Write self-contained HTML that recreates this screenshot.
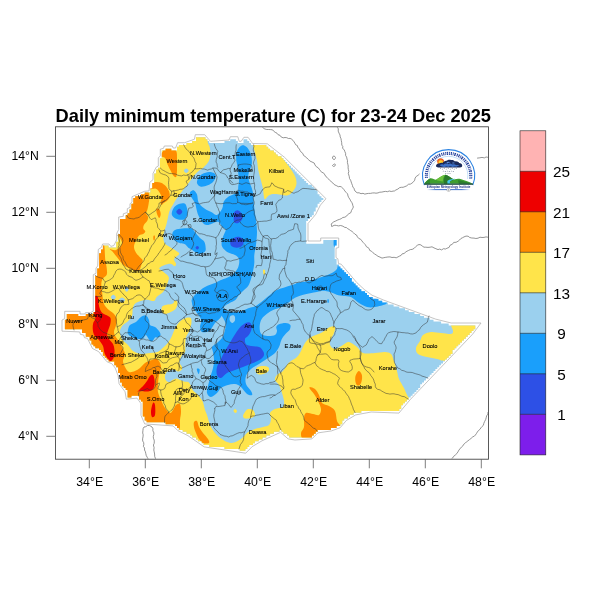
<!DOCTYPE html>
<html><head><meta charset="utf-8">
<title>Daily minimum temperature</title>
<style>
html,body{margin:0;padding:0;background:#fff;}
body{width:600px;height:600px;overflow:hidden;position:relative;font-family:"Liberation Sans",sans-serif;}
svg{position:absolute;left:0;top:0;}
text{font-family:"Liberation Sans",sans-serif;}
</style></head><body>
<svg width="600" height="600" viewBox="0 0 600 600">
<defs>
<filter id="nf" x="-0.05" y="-0.05" width="1.1" height="1.1" filterUnits="objectBoundingBox" color-interpolation-filters="sRGB"><feOffset dx="0" dy="0"/></filter>
<clipPath id="frame"><rect x="56" y="127.3" width="432" height="331.5"/></clipPath>
<clipPath id="eth"><path d="M192.2 143.0L186.5 143.0L186.5 144.9L178.9 144.9L178.9 146.8L177.0 146.8L177.0 148.7L177.0 148.7L177.0 150.6L171.3 150.6L171.3 148.7L165.6 148.7L165.6 150.6L161.8 150.6L161.8 152.5L161.8 152.5L161.8 154.4L161.8 154.4L161.8 156.3L161.8 156.3L161.8 158.2L159.9 158.2L159.9 160.1L159.9 160.1L159.9 162.0L159.9 162.0L159.9 163.9L159.9 163.9L159.9 165.8L159.9 165.8L159.9 167.7L158.0 167.7L158.0 169.6L156.1 169.6L156.1 171.5L156.1 171.5L156.1 173.4L154.2 173.4L154.2 175.3L154.2 175.3L154.2 177.2L154.2 177.2L154.2 179.1L154.2 179.1L154.2 181.0L154.2 181.0L154.2 182.9L152.3 182.9L152.3 184.8L152.3 184.8L152.3 186.7L152.3 186.7L152.3 188.6L150.4 188.6L150.4 190.5L150.4 190.5L150.4 192.4L144.7 192.4L144.7 194.3L140.9 194.3L140.9 196.2L135.2 196.2L135.2 198.1L133.3 198.1L133.3 200.0L133.3 200.0L133.3 201.9L133.3 201.9L133.3 203.8L131.4 203.8L131.4 205.7L131.4 205.7L131.4 207.6L131.4 207.6L131.4 209.5L129.5 209.5L129.5 211.4L129.5 211.4L129.5 213.3L127.6 213.3L127.6 215.2L125.7 215.2L125.7 217.1L125.7 217.1L125.7 219.0L120.0 219.0L120.0 220.9L120.0 220.9L120.0 222.8L120.0 222.8L120.0 224.7L120.0 224.7L120.0 226.6L120.0 226.6L120.0 228.5L120.0 228.5L120.0 230.4L120.0 230.4L120.0 232.3L120.0 232.3L120.0 234.2L118.1 234.2L118.1 236.1L118.1 236.1L118.1 238.0L118.1 238.0L118.1 239.9L118.1 239.9L118.1 241.8L116.2 241.8L116.2 243.7L116.2 243.7L116.2 245.6L116.2 245.6L116.2 247.5L108.6 247.5L108.6 245.6L102.9 245.6L102.9 247.5L102.9 247.5L102.9 249.4L101.0 249.4L101.0 251.3L101.0 251.3L101.0 253.2L99.1 253.2L99.1 255.1L99.1 255.1L99.1 257.0L99.1 257.0L99.1 258.9L99.1 258.9L99.1 260.8L99.1 260.8L99.1 262.7L99.1 262.7L99.1 264.6L99.1 264.6L99.1 266.5L99.1 266.5L99.1 268.4L97.2 268.4L97.2 270.3L97.2 270.3L97.2 272.2L97.2 272.2L97.2 274.1L97.2 274.1L97.2 276.0L95.3 276.0L95.3 277.9L95.3 277.9L95.3 279.8L95.3 279.8L95.3 281.7L95.3 281.7L95.3 283.6L95.3 283.6L95.3 285.5L95.3 285.5L95.3 287.4L95.3 287.4L95.3 289.3L95.3 289.3L95.3 291.2L95.3 291.2L95.3 293.1L95.3 293.1L95.3 295.0L95.3 295.0L95.3 296.9L95.3 296.9L95.3 298.8L95.3 298.8L95.3 300.7L95.3 300.7L95.3 302.6L95.3 302.6L95.3 304.5L95.3 304.5L95.3 306.4L95.3 306.4L95.3 308.3L95.3 308.3L95.3 310.2L95.3 310.2L95.3 312.1L93.4 312.1L93.4 314.0L85.8 314.0L85.8 315.9L78.2 315.9L78.2 314.0L66.8 314.0L66.8 315.9L66.8 315.9L66.8 317.8L66.8 317.8L66.8 319.7L64.9 319.7L64.9 321.6L64.9 321.6L64.9 323.5L64.9 323.5L64.9 325.4L64.9 325.4L64.9 327.3L64.9 327.3L64.9 329.2L82.0 329.2L82.0 331.1L82.0 331.1L82.0 333.0L85.8 333.0L85.8 334.9L85.8 334.9L85.8 336.8L89.6 336.8L89.6 338.7L89.6 338.7L89.6 340.6L91.5 340.6L91.5 342.5L91.5 342.5L91.5 344.4L93.4 344.4L93.4 346.3L95.3 346.3L95.3 348.2L99.1 348.2L99.1 350.1L101.0 350.1L101.0 352.0L102.9 352.0L102.9 353.9L102.9 353.9L102.9 355.8L104.8 355.8L104.8 357.7L106.7 357.7L106.7 359.6L108.6 359.6L108.6 361.5L114.3 361.5L114.3 363.4L114.3 363.4L114.3 365.3L116.2 365.3L116.2 367.2L118.1 367.2L118.1 369.1L118.1 369.1L118.1 371.0L118.1 371.0L118.1 372.9L120.0 372.9L120.0 374.8L120.0 374.8L120.0 376.7L120.0 376.7L120.0 378.6L120.0 378.6L120.0 380.5L120.0 380.5L120.0 382.4L121.9 382.4L121.9 384.3L121.9 384.3L121.9 386.2L123.8 386.2L123.8 388.1L125.7 388.1L125.7 390.0L127.6 390.0L127.6 391.9L127.6 391.9L127.6 393.8L127.6 393.8L127.6 395.7L127.6 395.7L127.6 397.6L131.4 397.6L131.4 395.7L139.0 395.7L139.0 397.6L139.0 397.6L139.0 399.5L140.9 399.5L140.9 401.4L142.8 401.4L142.8 403.3L142.8 403.3L142.8 405.2L142.8 405.2L142.8 407.1L142.8 407.1L142.8 409.0L142.8 409.0L142.8 410.9L142.8 410.9L142.8 412.8L142.8 412.8L142.8 414.7L142.8 414.7L142.8 416.6L144.7 416.6L144.7 418.5L144.7 418.5L144.7 420.4L146.6 420.4L146.6 422.3L165.6 422.3L165.6 424.2L175.1 424.2L175.1 426.1L177.0 426.1L177.0 428.0L178.9 428.0L178.9 429.9L182.7 429.9L182.7 431.8L186.5 431.8L186.5 433.7L190.3 433.7L190.3 435.6L192.2 435.6L192.2 437.5L196.0 437.5L196.0 439.4L197.9 439.4L197.9 441.3L201.7 441.3L201.7 443.2L203.6 443.2L203.6 445.1L209.3 445.1L209.3 447.0L224.5 447.0L224.5 448.9L239.7 448.9L239.7 450.8L245.4 450.8L245.4 448.9L247.3 448.9L247.3 447.0L249.2 447.0L249.2 445.1L253.0 445.1L253.0 443.2L254.9 443.2L254.9 441.3L258.7 441.3L258.7 439.4L262.5 439.4L262.5 437.5L266.3 437.5L266.3 435.6L270.1 435.6L270.1 433.7L273.9 433.7L273.9 431.8L279.6 431.8L279.6 429.9L281.5 429.9L281.5 431.8L283.4 431.8L283.4 433.7L287.2 433.7L287.2 435.6L289.1 435.6L289.1 437.5L311.9 437.5L311.9 435.6L313.8 435.6L313.8 433.7L315.7 433.7L315.7 431.8L317.6 431.8L317.6 429.9L330.9 429.9L330.9 428.0L336.6 428.0L336.6 426.1L340.4 426.1L340.4 424.2L342.3 424.2L342.3 422.3L342.3 422.3L342.3 420.4L344.2 420.4L344.2 418.5L348.0 418.5L348.0 416.6L349.9 416.6L349.9 414.7L353.7 414.7L353.7 412.8L361.3 412.8L361.3 410.9L399.3 410.9L399.3 409.0L401.2 409.0L401.2 407.1L401.2 407.1L401.2 405.2L403.1 405.2L403.1 403.3L405.0 403.3L405.0 401.4L406.9 401.4L406.9 399.5L408.8 399.5L408.8 397.6L410.7 397.6L410.7 395.7L412.6 395.7L412.6 393.8L414.5 393.8L414.5 391.9L416.4 391.9L416.4 390.0L418.3 390.0L418.3 388.1L420.2 388.1L420.2 386.2L420.2 386.2L420.2 384.3L422.1 384.3L422.1 382.4L424.0 382.4L424.0 380.5L425.9 380.5L425.9 378.6L427.8 378.6L427.8 376.7L429.7 376.7L429.7 374.8L431.6 374.8L431.6 372.9L433.5 372.9L433.5 371.0L435.4 371.0L435.4 369.1L437.3 369.1L437.3 367.2L439.2 367.2L439.2 365.3L441.1 365.3L441.1 363.4L443.0 363.4L443.0 361.5L444.9 361.5L444.9 359.6L446.8 359.6L446.8 357.7L448.7 357.7L448.7 355.8L450.6 355.8L450.6 353.9L452.5 353.9L452.5 352.0L452.5 352.0L452.5 350.1L454.4 350.1L454.4 348.2L456.3 348.2L456.3 346.3L458.2 346.3L458.2 344.4L460.1 344.4L460.1 342.5L462.0 342.5L462.0 340.6L463.9 340.6L463.9 338.7L465.8 338.7L465.8 336.8L467.7 336.8L467.7 334.9L469.6 334.9L469.6 333.0L471.5 333.0L471.5 331.1L473.4 331.1L473.4 329.2L475.3 329.2L475.3 327.3L475.3 327.3L475.3 325.4L448.7 325.4L448.7 323.5L441.1 323.5L441.1 321.6L433.5 321.6L433.5 319.7L429.7 319.7L429.7 317.8L424.0 317.8L424.0 315.9L420.2 315.9L420.2 314.0L414.5 314.0L414.5 312.1L408.8 312.1L408.8 310.2L405.0 310.2L405.0 308.3L399.3 308.3L399.3 306.4L393.6 306.4L393.6 304.5L387.9 304.5L387.9 302.6L382.2 302.6L382.2 300.7L378.4 300.7L378.4 298.8L372.7 298.8L372.7 296.9L368.9 296.9L368.9 295.0L367.0 295.0L367.0 293.1L365.1 293.1L365.1 291.2L361.3 291.2L361.3 289.3L359.4 289.3L359.4 287.4L357.5 287.4L357.5 285.5L355.6 285.5L355.6 283.6L353.7 283.6L353.7 281.7L351.8 281.7L351.8 279.8L351.8 279.8L351.8 277.9L349.9 277.9L349.9 276.0L348.0 276.0L348.0 274.1L346.1 274.1L346.1 272.2L344.2 272.2L344.2 270.3L342.3 270.3L342.3 268.4L340.4 268.4L340.4 266.5L338.5 266.5L338.5 264.6L336.6 264.6L336.6 262.7L336.6 262.7L336.6 260.8L336.6 260.8L336.6 258.9L334.7 258.9L334.7 257.0L334.7 257.0L334.7 255.1L334.7 255.1L334.7 253.2L334.7 253.2L334.7 251.3L334.7 251.3L334.7 249.4L334.7 249.4L334.7 247.5L334.7 247.5L334.7 245.6L336.6 245.6L336.6 243.7L336.6 243.7L336.6 241.8L336.6 241.8L336.6 239.9L323.3 239.9L323.3 241.8L323.3 241.8L323.3 243.7L306.2 243.7L306.2 241.8L306.2 241.8L306.2 239.9L306.2 239.9L306.2 238.0L306.2 238.0L306.2 236.1L306.2 236.1L306.2 234.2L306.2 234.2L306.2 232.3L306.2 232.3L306.2 230.4L306.2 230.4L306.2 228.5L306.2 228.5L306.2 226.6L306.2 226.6L306.2 224.7L306.2 224.7L306.2 222.8L306.2 222.8L306.2 220.9L308.1 220.9L308.1 219.0L310.0 219.0L310.0 217.1L311.9 217.1L311.9 215.2L313.8 215.2L313.8 213.3L313.8 213.3L313.8 211.4L315.7 211.4L315.7 209.5L315.7 209.5L315.7 207.6L317.6 207.6L317.6 205.7L317.6 205.7L317.6 203.8L319.5 203.8L319.5 201.9L321.4 201.9L321.4 200.0L323.3 200.0L323.3 198.1L321.4 198.1L321.4 196.2L319.5 196.2L319.5 194.3L317.6 194.3L317.6 192.4L317.6 192.4L317.6 190.5L315.7 190.5L315.7 188.6L313.8 188.6L313.8 186.7L311.9 186.7L311.9 184.8L308.1 184.8L308.1 182.9L306.2 182.9L306.2 181.0L304.3 181.0L304.3 179.1L302.4 179.1L302.4 177.2L300.5 177.2L300.5 175.3L298.6 175.3L298.6 173.4L296.7 173.4L296.7 171.5L294.8 171.5L294.8 169.6L292.9 169.6L292.9 167.7L291.0 167.7L291.0 165.8L289.1 165.8L289.1 163.9L287.2 163.9L287.2 162.0L285.3 162.0L285.3 160.1L283.4 160.1L283.4 158.2L281.5 158.2L281.5 156.3L277.7 156.3L277.7 154.4L275.8 154.4L275.8 152.5L273.9 152.5L273.9 150.6L270.1 150.6L270.1 148.7L268.2 148.7L268.2 146.8L266.3 146.8L266.3 144.9L251.1 144.9L251.1 143.0L249.2 143.0L249.2 141.1L247.3 141.1L247.3 139.2L243.5 139.2L243.5 141.1L243.5 141.1L243.5 143.0L237.8 143.0L237.8 141.1L235.9 141.1L235.9 139.2L230.2 139.2L230.2 141.1L224.5 141.1L224.5 143.0L209.3 143.0L209.3 141.1L207.4 141.1L207.4 139.2L205.5 139.2L205.5 137.3L196.0 137.3L196.0 139.2L196.0 139.2L196.0 141.1L192.2 141.1Z"/></clipPath>
</defs>
<g clip-path="url(#frame)">
<g fill="none" stroke="#7a7a7a" stroke-width="0.8" stroke-linejoin="round">
<path d="M262.0 126.3L263.6 128.4L264.9 129.0L266.8 129.5L268.7 129.5L270.7 129.6L272.7 129.9L273.7 131.2L275.2 132.3L277.0 133.2L278.0 134.7L280.0 135.3L281.2 137.0L283.2 137.8L285.0 137.5L286.8 137.7L288.4 138.5L290.1 138.4L291.7 139.2L292.9 140.3L294.1 141.9L294.9 143.2L295.6 144.7L297.4 145.6L297.8 147.5L299.3 148.7L300.0 150.5L301.2 152.2L302.9 153.5L303.5 155.4L305.0 156.4L306.9 158.0L308.4 159.5L309.8 161.0L312.0 162.0L314.2 163.0L315.0 165.0L316.3 166.7L318.2 167.8L319.4 169.4L320.6 170.9L321.7 172.3L323.4 172.8L325.0 175.0L325.6 176.3L327.0 177.3L328.2 178.7L329.5 180.2L331.1 181.5L332.6 182.7L333.7 184.1L335.0 185.0L336.8 185.8L338.3 186.7L340.0 186.4L341.5 187.0L342.8 188.2L343.8 189.4L344.8 190.9L346.1 192.4L347.6 193.9L348.0 196.0L348.8 197.7L349.8 199.1L350.7 200.9L351.8 202.5L352.5 204.0L352.8 205.5L353.4 207.0L352.5 208.8L351.5 210.4L350.9 212.6L348.8 213.8L347.6 214.7L346.5 216.2L344.8 217.2L342.8 217.5L341.2 218.7L339.5 219.4L337.9 219.9L335.7 221.0L333.7 221.9L332.1 223.1L331.2 224.0L331.9 226.7L332.5 226.0L334.9 225.2L336.6 225.5L338.5 225.9L340.7 225.5L342.9 226.2L344.8 227.4L346.5 227.6L347.7 228.7L349.2 229.5L350.6 230.6L352.2 231.5L353.5 232.8L354.9 234.2L356.5 235.0L357.4 236.8L358.7 238.4L360.7 239.3L361.9 240.9L363.1 242.4L364.3 243.6L365.3 244.7L366.5 246.8L368.0 247.6L369.1 248.5L369.7 250.4L371.5 251.2L372.9 252.7L374.5 253.9L376.1 254.9L378.0 256.3L380.0 257.1L382.0 258.1L383.8 257.7L385.8 257.3L387.9 257.0L390.0 256.9L392.0 257.5L394.1 257.3L396.2 257.8L398.0 256.9L399.5 256.1L401.1 255.4L402.2 253.8L404.3 253.5L405.4 252.1L407.0 251.2L408.7 250.4L410.3 249.6L412.2 249.4L414.2 248.3L415.7 246.7L417.3 245.3L419.0 244.5L420.9 244.9L422.3 246.1L424.0 247.2L425.8 247.2L428.0 247.4L430.1 247.2L432.0 246.8L434.0 247.9L435.9 248.7L438.0 249.6L439.7 249.1L441.6 249.9L443.5 248.7L445.4 249.0L446.9 248.3L449.1 247.4L450.1 245.2L452.3 244.3L453.7 242.4L456.1 242.3L458.1 241.2L459.6 240.0L460.9 238.5L462.6 237.7L464.0 236.9L466.0 236.1L468.1 236.2L469.7 237.5L471.8 238.0L474.0 238.1L475.9 238.5L478.0 238.2L480.0 237.2L482.0 237.5L484.0 237.4L486.0 236.9L487.8 237.2L489.0 237.4"/>
<path d="M337.0 126.0L337.3 127.2L338.3 128.8L338.2 131.1L339.0 133.1L340.0 135.0L340.2 136.9L341.0 138.7L341.3 140.6L341.7 142.7L341.8 145.1L342.8 146.4L342.6 148.4L344.2 149.7L344.8 151.5L345.6 153.3L345.6 155.4L346.6 157.1L347.0 159.0L347.5 160.7L347.4 162.4L347.8 164.2L348.2 166.0L348.1 167.8L348.4 169.6L348.8 171.4L348.3 173.3L348.8 175.0L349.3 176.7L349.5 178.5L350.6 180.2L351.2 182.0L351.8 183.8L352.5 185.5L352.9 187.3L354.2 188.4L354.4 189.9L355.0 191.0L357.1 192.8L359.1 192.8L361.0 193.7L363.0 193.3L364.8 194.1L367.0 193.6L368.6 193.4L370.4 193.4L372.3 193.0L374.2 192.9L376.0 193.2L378.0 192.9L379.8 192.2L381.8 192.1L384.0 191.6L385.6 191.4L387.4 191.7L389.3 191.0L391.2 191.5L393.1 191.1L394.7 190.9L395.8 190.0L397.8 189.1L399.7 187.6L401.3 187.3L403.1 187.3L404.9 186.6L406.8 185.8L408.4 184.3L410.4 184.1L411.9 183.2L413.5 181.8L414.7 180.2L415.1 178.1L416.3 176.4L418.2 175.2L419.4 174.0L420.7 172.9L421.6 171.4L423.3 170.6L424.3 168.7L426.4 168.4L428.2 167.4L429.3 166.2L430.8 165.3L432.6 165.2L434.4 164.8L436.0 164.0L437.7 163.2L439.6 162.9L441.6 163.1L443.2 161.9L445.1 162.5L446.7 161.4L448.4 161.1L450.1 160.8L451.9 161.5L453.6 161.3L455.3 160.5L457.0 160.1L458.7 160.5L460.4 160.6L461.9 159.5L463.8 159.9L465.7 159.9L467.4 159.3L469.2 159.1L471.0 159.2L472.6 158.3L474.3 158.1L476.0 158.4L477.5 158.1L479.8 157.8L482.0 157.4L484.3 157.9L486.1 157.0L487.8 157.3L489.0 157.0"/>
<path d="M489.0 410.0L489.0 411.2L488.0 412.3L487.9 414.1L486.7 415.7L486.2 417.7L485.6 419.7L484.6 421.5L483.8 423.4L483.4 425.3L482.0 426.5L480.9 427.9L479.9 429.4L478.4 430.6L477.3 432.1L476.4 433.6L475.4 435.0L474.3 436.2L472.8 436.8L471.1 438.4L469.4 439.7L467.9 440.9L466.4 441.9L465.2 443.2L463.6 444.4L462.9 445.9L461.4 447.1L459.9 448.9L458.9 450.1L458.0 451.8L456.9 453.5L455.3 455.0L453.7 456.3L452.7 457.9L451.5 458.9L451.0 460.0"/>
<path d="M144.0 427.0L145.7 426.7L147.5 425.5L149.3 425.5L150.8 426.2L152.0 427.0L152.9 428.6L152.9 430.8L153.9 432.9L153.8 434.5L153.3 436.3L153.4 438.2L154.2 440.1L154.3 441.9L154.1 443.6L153.4 445.0L154.1 447.7L153.8 450.0L154.2 451.8L154.6 454.0L154.7 456.5L155.5 458.5L155.5 460.0"/>
<path d="M144.0 427.0L143.2 428.4L142.9 430.6L142.7 433.0L143.2 434.8L143.0 436.8L142.6 438.9L142.7 441.0L143.7 442.7L143.8 444.4L143.4 446.4L144.6 448.0L144.5 450.0L145.4 451.7L145.8 453.7L146.3 455.7L147.3 457.4L148.1 458.9L148.4 460.0"/>
<path d="M332.5 157.0C332.7 156.5 333.5 155.9 334.0 156.0C334.5 156.1 335.4 156.9 335.5 157.5C335.6 158.1 334.9 159.2 334.5 159.5C334.1 159.8 333.3 159.4 333.0 159.0C332.7 158.6 332.3 157.5 332.5 157.0Z"/>
<path d="M332.5 165.5C332.6 165.1 334.0 164.1 334.5 164.0C335.0 163.9 335.6 164.6 335.5 165.0C335.4 165.4 334.5 166.4 334.0 166.5C333.5 166.6 332.4 165.9 332.5 165.5Z"/>
</g>
<g clip-path="url(#eth)">
<rect x="56" y="127" width="432" height="332" fill="#9BD0EE"/>
<path d="M207.7 132.0C210.6 134.3 207.4 139.4 207.7 142.0C208.0 144.6 209.3 145.3 209.7 147.3C210.1 149.3 210.4 151.8 210.3 154.0C210.2 156.2 210.1 158.5 209.0 160.7C207.9 162.9 205.5 165.5 203.7 167.3C201.9 169.1 199.9 170.0 198.3 171.3C196.7 172.6 195.6 173.7 194.3 175.3C193.0 176.9 191.6 178.9 190.3 180.7C189.0 182.5 187.9 184.0 186.3 186.0C184.8 188.0 182.6 190.7 181.0 192.7C179.4 194.7 178.3 196.0 177.0 198.0C175.7 200.0 174.2 202.7 173.0 204.7C171.8 206.7 170.7 208.4 170.0 210.0C169.3 211.6 169.2 211.8 168.7 214.0C168.1 216.2 167.4 220.6 166.7 223.3C166.0 226.0 165.3 227.8 164.7 230.0C164.1 232.2 163.3 234.5 163.3 236.7C163.3 238.9 163.8 241.7 164.7 243.3C165.6 244.9 166.9 245.1 168.7 246.3C170.5 247.5 173.5 249.1 175.3 250.3C177.1 251.5 179.2 252.6 179.3 253.7C179.4 254.8 176.9 256.0 176.0 257.0C175.1 258.0 174.0 258.6 174.0 259.7C174.0 260.8 175.9 262.6 176.0 263.7C176.1 264.8 175.6 266.3 174.7 266.3C173.8 266.3 172.4 263.9 170.7 263.7C169.0 263.5 166.6 264.2 164.7 265.0C162.8 265.8 159.5 267.2 159.3 268.3C159.1 269.4 161.7 270.2 163.3 271.7C164.9 273.1 168.0 275.0 168.7 277.0C169.4 279.0 168.2 281.2 167.3 283.7C166.4 286.1 165.1 289.5 163.3 291.7C161.5 293.9 158.2 295.4 156.7 297.0C155.1 298.6 155.6 300.6 154.0 301.0C152.4 301.4 149.5 299.7 147.3 299.7C145.1 299.7 142.8 300.3 140.7 301.0C138.6 301.7 136.0 302.6 134.7 304.0C133.4 305.4 133.1 307.3 132.7 309.3C132.2 311.3 132.8 314.0 132.0 316.0C131.2 318.0 129.6 319.8 128.0 321.3C126.5 322.9 124.0 323.7 122.7 325.3C121.4 326.9 120.3 328.9 120.0 330.7C119.7 332.5 120.2 334.4 120.7 336.0C121.2 337.6 121.5 338.5 122.7 340.0C123.9 341.5 126.3 343.2 128.0 345.0C129.7 346.8 130.8 349.5 133.0 351.0C135.2 352.5 138.5 353.6 141.0 354.0C143.5 354.4 145.3 353.6 148.0 353.3C150.7 353.0 154.9 352.9 157.3 352.0C159.8 351.1 160.9 349.6 162.7 348.0C164.5 346.4 166.6 344.5 168.0 342.7C169.4 340.9 170.2 339.5 171.3 337.3C172.4 335.1 173.5 331.7 174.7 329.3C175.9 326.9 177.1 324.5 178.7 322.7C180.2 320.9 182.0 319.5 184.0 318.7C186.0 317.9 189.5 317.1 190.7 318.0C191.9 318.9 191.5 321.9 191.3 324.0C191.1 326.1 190.2 328.5 189.3 330.7C188.4 332.9 186.7 335.1 186.0 337.3C185.3 339.5 185.5 341.6 185.3 344.0C185.1 346.4 185.6 350.2 185.0 352.0C184.4 353.8 182.8 353.8 182.0 355.0C181.2 356.2 180.4 357.7 180.0 359.0C179.6 360.3 179.2 361.7 179.5 363.0C179.8 364.3 181.7 365.8 182.0 367.0C182.3 368.2 182.2 369.2 181.5 370.0C180.8 370.8 179.1 371.5 178.0 371.5C176.9 371.5 176.0 370.2 175.0 370.0C174.0 369.8 173.2 369.8 172.0 370.0C170.8 370.2 169.1 370.3 168.0 371.0C166.9 371.7 166.0 372.8 165.5 374.0C165.0 375.2 164.8 376.8 165.0 378.0C165.2 379.2 165.8 380.3 166.5 381.0C167.2 381.7 168.5 382.2 169.5 382.0C170.5 381.8 171.3 380.6 172.5 380.0C173.7 379.4 175.2 378.5 176.5 378.5C177.8 378.5 178.8 379.5 180.0 380.0C181.2 380.5 182.7 381.2 184.0 381.5C185.3 381.8 187.0 381.6 188.0 382.0C189.0 382.4 189.4 383.0 190.0 384.0C190.6 385.0 190.9 386.8 191.5 388.0C192.1 389.2 192.6 390.0 193.5 391.0C194.4 392.0 195.9 392.9 197.0 394.0C198.1 395.1 199.1 396.3 200.0 397.5C200.9 398.7 201.8 399.6 202.5 401.0C203.2 402.4 203.6 404.5 204.0 406.0C204.4 407.5 204.5 408.5 205.0 410.0C205.5 411.5 206.0 412.2 207.0 415.0C208.0 417.8 209.0 423.3 211.0 427.0C213.0 430.7 215.7 434.3 219.0 437.0C222.3 439.7 227.3 442.7 231.0 443.0C234.7 443.3 238.3 440.7 241.0 439.0C243.7 437.3 244.7 434.7 247.0 433.0C249.3 431.3 252.3 430.0 255.0 429.0C257.7 428.0 260.7 427.7 263.0 427.0C265.3 426.3 267.7 426.3 269.0 425.0C270.3 423.7 270.8 421.0 271.0 419.0C271.2 417.0 269.3 414.7 270.0 413.0C270.7 411.3 272.8 410.0 275.0 409.0C277.2 408.0 281.5 408.3 283.0 407.0C284.5 405.7 284.2 403.3 284.0 401.0C283.8 398.7 282.8 395.7 282.0 393.0C281.2 390.3 280.2 387.2 279.0 385.0C277.8 382.8 275.3 381.7 275.0 380.0C274.7 378.3 275.7 376.5 277.0 375.0C278.3 373.5 281.3 372.7 283.0 371.0C284.7 369.3 285.7 366.7 287.0 365.0C288.3 363.3 289.3 362.3 291.0 361.0C292.7 359.7 295.3 358.7 297.0 357.0C298.7 355.3 299.7 353.3 301.0 351.0C302.3 348.7 303.3 345.3 305.0 343.0C306.7 340.7 308.3 338.7 311.0 337.0C313.7 335.3 317.8 334.7 321.0 333.0C324.2 331.3 327.7 328.0 330.0 327.0C332.3 326.0 334.3 326.0 335.0 327.0C335.7 328.0 334.7 331.0 334.0 333.0C333.3 335.0 331.7 337.0 331.0 339.0C330.3 341.0 329.3 343.3 330.0 345.0C330.7 346.7 332.8 349.0 335.0 349.0C337.2 349.0 340.7 346.2 343.0 345.0C345.3 343.8 346.7 341.7 349.0 342.0C351.3 342.3 354.7 345.2 357.0 347.0C359.3 348.8 360.0 352.0 363.0 353.0C366.0 354.0 371.3 353.2 375.0 353.0C378.7 352.8 382.3 351.8 385.0 352.0C387.7 352.2 389.5 352.5 391.0 354.0C392.5 355.5 393.0 358.2 394.0 361.0C395.0 363.8 396.2 368.0 397.0 371.0C397.8 374.0 397.8 376.2 399.0 379.0C400.2 381.8 402.3 384.8 404.0 388.0C405.7 391.2 405.5 392.7 409.0 398.0C412.5 403.3 426.5 413.0 425.0 420.0C423.5 427.0 420.8 431.7 400.0 440.0C379.2 448.3 333.3 465.0 300.0 470.0C266.7 475.0 230.0 475.0 200.0 470.0C170.0 465.0 146.7 460.0 120.0 440.0C93.3 420.0 53.3 373.3 40.0 350.0C26.7 326.7 31.7 320.0 40.0 300.0C48.3 280.0 76.7 250.0 90.0 230.0C103.3 210.0 110.0 195.0 120.0 180.0C130.0 165.0 138.3 148.7 150.0 140.0C161.7 131.3 180.4 129.3 190.0 128.0C199.6 126.7 204.8 129.7 207.7 132.0Z" fill="#FFE44A"/>
<path d="M253.0 138.0C251.0 139.2 252.7 142.9 253.0 145.3C253.3 147.8 254.3 150.1 255.0 152.7C255.7 155.3 256.4 157.8 257.0 160.7C257.6 163.6 257.6 166.7 258.3 170.0C259.0 173.3 260.2 177.6 261.0 180.7C261.8 183.8 262.6 186.3 263.0 188.7C263.4 191.1 263.4 193.5 263.7 195.3C264.0 197.1 264.1 199.3 265.0 199.3C265.9 199.3 267.4 196.2 269.0 195.3C270.6 194.4 272.3 194.1 274.3 194.0C276.3 193.9 278.8 194.5 281.0 194.7C283.2 194.9 285.7 195.9 287.7 195.3C289.7 194.7 291.6 193.1 293.0 191.3C294.4 189.5 295.9 186.9 296.3 184.7C296.8 182.5 296.4 180.2 295.7 178.0C295.0 175.8 293.6 173.5 292.3 171.3C291.0 169.1 289.1 166.8 287.7 164.7C286.3 162.6 284.0 160.5 283.7 158.7C283.4 156.9 287.4 156.4 286.0 154.0C284.6 151.6 278.5 146.7 275.0 144.0C271.5 141.3 268.7 139.0 265.0 138.0C261.3 137.0 255.0 136.8 253.0 138.0Z" fill="#FFE44A"/>
<path d="M451.0 325.0C451.3 327.2 453.0 329.5 453.0 331.0C453.0 332.5 453.0 333.7 451.0 334.0C449.0 334.3 444.3 333.3 441.0 333.0C437.7 332.7 434.0 331.7 431.0 332.0C428.0 332.3 424.8 333.5 423.0 335.0C421.2 336.5 421.2 338.8 420.0 341.0C418.8 343.2 416.3 345.8 416.0 348.0C415.7 350.2 416.2 352.5 418.0 354.0C419.8 355.5 423.8 356.2 427.0 357.0C430.2 357.8 434.0 358.3 437.0 359.0C440.0 359.7 440.8 360.7 445.0 361.0C449.2 361.3 454.5 367.5 462.0 361.0C469.5 354.5 491.8 329.2 490.0 322.0C488.2 314.8 457.5 317.5 451.0 318.0C444.5 318.5 450.7 322.8 451.0 325.0Z" fill="#FFE44A"/>
<path d="M255.5 370.0C255.8 369.0 256.8 367.7 258.0 367.0C259.2 366.3 261.3 366.0 263.0 366.0C264.7 366.0 267.0 366.3 268.0 367.0C269.0 367.7 269.3 369.0 269.0 370.0C268.7 371.0 267.5 372.2 266.0 373.0C264.5 373.8 261.6 374.5 260.0 374.5C258.4 374.5 257.2 373.8 256.5 373.0C255.8 372.2 255.2 371.0 255.5 370.0Z" fill="#FFE44A"/>
<path d="M243.0 416.0C243.0 414.9 244.2 413.2 245.0 412.0C245.8 410.8 246.7 409.3 248.0 409.0C249.3 408.7 251.8 409.0 253.0 410.0C254.2 411.0 255.3 413.7 255.0 415.0C254.7 416.3 252.7 417.4 251.0 418.0C249.3 418.6 246.3 418.8 245.0 418.5C243.7 418.2 243.0 417.1 243.0 416.0Z" fill="#FFE44A"/>
<path d="M233.5 411.0C233.4 410.3 234.4 409.0 235.0 409.0C235.6 409.0 236.9 410.3 237.0 411.0C237.1 411.7 236.1 413.0 235.5 413.0C234.9 413.0 233.6 411.7 233.5 411.0Z" fill="#FFE44A"/>
<path d="M263.0 270.0C263.2 269.3 264.7 269.3 265.0 270.0C265.3 270.7 265.2 273.3 265.0 274.0C264.8 274.7 263.8 274.7 263.5 274.0C263.2 273.3 262.8 270.7 263.0 270.0Z" fill="#FFE44A"/>
<path d="M174.0 301.0C174.4 300.2 176.5 300.3 177.0 301.0C177.5 301.7 177.4 304.2 177.0 305.0C176.6 305.8 175.0 306.7 174.5 306.0C174.0 305.3 173.6 301.8 174.0 301.0Z" fill="#FFE44A"/>
<path d="M162.0 306.7C162.8 305.5 165.0 305.1 166.7 304.7C168.4 304.2 170.4 304.6 172.0 304.0C173.6 303.4 175.1 301.3 176.0 301.3C176.9 301.3 177.6 302.7 177.5 304.0C177.4 305.3 176.4 308.0 175.3 309.3C174.2 310.6 172.4 311.2 170.7 312.0C169.0 312.8 166.8 314.0 165.3 314.0C163.9 314.0 162.6 313.2 162.0 312.0C161.4 310.8 161.2 307.9 162.0 306.7Z" fill="#FFE44A"/>
<path d="M183.9 170.7C183.9 170.0 185.5 168.5 186.3 168.5C187.1 168.5 188.7 170.0 188.7 170.7C188.7 171.4 187.1 172.9 186.3 172.9C185.5 172.9 183.9 171.4 183.9 170.7Z" fill="#9BD0EE"/>
<path d="M110.8 297.3C110.8 296.5 112.5 294.8 113.3 294.8C114.1 294.8 115.8 296.5 115.8 297.3C115.8 298.1 114.1 299.8 113.3 299.8C112.5 299.8 110.8 298.1 110.8 297.3Z" fill="#9BD0EE"/>
<path d="M124.7 289.3C124.7 288.5 126.0 286.8 126.7 286.8C127.4 286.8 128.7 288.5 128.7 289.3C128.7 290.1 127.4 291.8 126.7 291.8C126.0 291.8 124.7 290.1 124.7 289.3Z" fill="#9BD0EE"/>
<path d="M119.0 300.0C119.0 299.2 121.0 297.5 122.0 297.5C123.0 297.5 125.0 299.2 125.0 300.0C125.0 300.8 123.0 302.5 122.0 302.5C121.0 302.5 119.0 300.8 119.0 300.0Z" fill="#9BD0EE"/>
<path d="M163.0 151.3C163.9 149.8 164.4 147.7 165.7 147.0C167.0 146.3 169.2 146.3 171.0 147.0C172.8 147.7 175.3 149.2 176.3 151.3C177.3 153.4 176.9 156.2 177.0 159.3C177.1 162.4 177.1 167.1 177.0 170.0C176.9 172.9 176.9 175.7 176.3 176.7C175.8 177.7 174.6 176.9 173.7 176.0C172.8 175.1 172.0 173.2 171.0 171.3C170.0 169.4 168.7 166.9 167.7 164.7C166.7 162.5 166.3 159.4 165.0 158.0C163.7 156.6 160.3 157.1 160.0 156.0C159.7 154.9 162.1 152.8 163.0 151.3Z" fill="#FF8C00"/>
<path d="M148.7 192.7C149.4 194.2 149.3 196.2 149.3 198.0C149.3 199.8 149.0 201.3 148.7 203.3C148.4 205.3 147.8 208.3 147.3 210.0C146.9 211.7 145.9 212.2 146.0 213.3C146.1 214.4 147.8 215.5 148.0 216.7C148.2 217.9 148.0 219.4 147.3 220.7C146.6 222.0 144.7 223.4 144.0 224.7C143.3 226.0 143.1 227.6 143.3 228.7C143.5 229.8 145.3 230.4 145.3 231.3C145.3 232.2 144.3 233.3 143.3 234.0C142.3 234.7 140.6 234.0 139.3 235.3C138.0 236.6 136.2 240.0 135.3 242.0C134.4 244.0 133.9 245.5 134.0 247.3C134.1 249.1 134.9 250.9 136.0 252.7C137.1 254.5 139.6 256.7 140.7 258.0C141.8 259.3 142.6 259.4 142.7 260.7C142.8 262.0 141.6 264.4 141.0 266.0C140.4 267.6 140.1 269.8 139.0 270.5C137.9 271.2 136.1 270.8 134.5 270.5C132.9 270.2 131.2 269.3 129.5 268.5C127.8 267.7 125.5 266.6 124.0 265.5C122.5 264.4 121.9 263.5 120.7 262.0C119.5 260.5 118.2 258.5 116.7 256.7C115.2 254.9 113.1 252.3 112.0 251.0C110.9 249.7 109.3 249.2 110.0 249.0C110.7 248.8 114.0 251.0 116.0 250.0C118.0 249.0 121.8 246.0 122.0 243.0C122.2 240.0 117.8 236.3 117.0 232.0C116.2 227.7 115.7 221.0 117.0 217.0C118.3 213.0 122.8 211.5 125.0 208.0C127.2 204.5 126.7 199.2 130.0 196.0C133.3 192.8 141.9 189.6 145.0 189.0C148.1 188.4 148.0 191.2 148.7 192.7Z" fill="#FF8C00"/>
<path d="M149.0 184.7C150.1 183.4 153.7 182.3 155.7 182.0C157.7 181.7 159.3 182.0 161.0 182.7C162.7 183.4 164.4 184.6 165.7 186.0C167.0 187.4 168.3 189.5 169.0 191.3C169.7 193.1 170.0 195.1 169.7 196.7C169.4 198.3 168.0 199.6 167.0 200.7C166.0 201.8 164.6 202.3 163.7 203.0C162.8 203.7 162.0 205.2 161.5 205.0C161.0 204.8 160.5 203.2 160.5 202.0C160.5 200.8 161.8 199.6 161.7 198.0C161.6 196.4 160.7 194.2 159.7 192.7C158.7 191.1 157.5 189.2 155.7 188.7C153.9 188.2 150.1 190.2 149.0 189.5C147.9 188.8 147.9 185.9 149.0 184.7Z" fill="#FF8C00"/>
<path d="M156.7 208.7C157.2 208.4 158.6 208.4 159.3 209.3C160.0 210.2 160.7 212.6 160.7 214.0C160.7 215.4 159.9 217.9 159.3 218.0C158.7 218.1 157.8 215.8 157.3 214.7C156.8 213.6 156.5 212.3 156.4 211.3C156.3 210.3 156.2 209.0 156.7 208.7Z" fill="#FF8C00"/>
<path d="M104.0 244.0C104.9 247.3 104.8 256.0 105.3 260.0C105.8 264.0 106.5 265.6 106.7 268.0C106.9 270.4 107.4 272.9 106.7 274.7C106.0 276.5 103.6 277.1 102.7 278.7C101.8 280.2 101.4 282.0 101.3 284.0C101.2 286.0 101.8 288.5 102.0 290.7C102.2 292.9 102.4 295.1 102.7 297.3C103.0 299.5 103.1 302.0 104.0 304.0C104.9 306.0 106.5 307.8 108.0 309.3C109.5 310.9 111.8 311.7 113.3 313.3C114.8 314.9 116.2 316.7 116.7 318.7C117.2 320.7 116.5 323.1 116.0 325.3C115.5 327.5 114.0 330.0 114.0 332.0C114.0 334.0 115.3 336.0 116.0 337.3C116.7 338.6 117.2 338.7 118.0 340.0C118.8 341.3 120.0 343.2 121.0 345.0C122.0 346.8 123.3 349.3 124.0 351.0C124.7 352.7 125.2 353.3 125.0 355.0C124.8 356.7 123.0 359.0 123.0 361.0C123.0 363.0 124.0 365.2 125.0 367.0C126.0 368.8 127.3 371.3 129.0 372.0C130.7 372.7 133.2 371.7 135.0 371.0C136.8 370.3 138.3 369.3 140.0 368.0C141.7 366.7 143.0 364.3 145.0 363.0C147.0 361.7 150.0 360.7 152.0 360.0C154.0 359.3 155.7 358.5 157.0 359.0C158.3 359.5 159.3 361.5 160.0 363.0C160.7 364.5 161.2 366.0 161.0 368.0C160.8 370.0 159.5 372.5 159.0 375.0C158.5 377.5 158.2 380.2 158.0 383.0C157.8 385.8 157.5 389.2 158.0 392.0C158.5 394.8 159.8 397.3 161.0 400.0C162.2 402.7 163.5 405.8 165.0 408.0C166.5 410.2 168.7 412.7 170.0 413.0C171.3 413.3 172.0 411.3 173.0 410.0C174.0 408.7 174.8 406.0 176.0 405.0C177.2 404.0 179.2 402.8 180.0 404.0C180.8 405.2 181.0 409.3 181.0 412.0C181.0 414.7 180.3 417.0 180.0 420.0C179.7 423.0 180.7 427.7 179.0 430.0C177.3 432.3 175.7 434.0 170.0 434.0C164.3 434.0 150.7 433.2 145.0 430.0C139.3 426.8 137.5 419.7 136.0 415.0C134.5 410.3 137.8 404.2 136.0 402.0C134.2 399.8 128.5 405.7 125.0 402.0C121.5 398.3 117.8 385.7 115.0 380.0C112.2 374.3 111.3 371.8 108.0 368.0C104.7 364.2 98.8 361.3 95.0 357.0C91.2 352.7 91.2 345.8 85.0 342.0C78.8 338.2 62.5 339.7 58.0 334.0C53.5 328.3 52.7 312.7 58.0 308.0C63.3 303.3 84.7 310.7 90.0 306.0C95.3 301.3 89.0 289.3 90.0 280.0C91.0 270.7 94.3 256.7 96.0 250.0C97.7 243.3 98.7 241.0 100.0 240.0C101.3 239.0 103.1 240.7 104.0 244.0Z" fill="#FF8C00"/>
<path d="M194.0 422.0C194.5 421.0 196.2 420.2 197.0 421.0C197.8 421.8 198.0 425.0 199.0 427.0C200.0 429.0 201.5 431.0 203.0 433.0C204.5 435.0 207.0 437.3 208.0 439.0C209.0 440.7 209.8 442.3 209.0 443.0C208.2 443.7 204.7 443.7 203.0 443.0C201.3 442.3 200.2 440.7 199.0 439.0C197.8 437.3 196.8 435.0 196.0 433.0C195.2 431.0 194.3 428.8 194.0 427.0C193.7 425.2 193.5 423.0 194.0 422.0Z" fill="#FF8C00"/>
<path d="M310.0 387.0C310.8 387.0 313.5 387.7 315.0 389.0C316.5 390.3 317.8 392.7 319.0 395.0C320.2 397.3 320.3 401.2 322.0 403.0C323.7 404.8 326.8 404.7 329.0 406.0C331.2 407.3 333.7 408.5 335.0 411.0C336.3 413.5 336.2 418.3 337.0 421.0C337.8 423.7 341.0 425.2 340.0 427.0C339.0 428.8 334.8 430.8 331.0 432.0C327.2 433.2 320.2 432.8 317.0 434.0C313.8 435.2 314.3 438.2 312.0 439.0C309.7 439.8 304.8 440.0 303.0 439.0C301.2 438.0 300.8 435.0 301.0 433.0C301.2 431.0 303.5 429.5 304.0 427.0C304.5 424.5 303.7 420.3 304.0 418.0C304.3 415.7 304.5 413.7 306.0 413.0C307.5 412.3 310.8 413.7 313.0 414.0C315.2 414.3 317.7 415.8 319.0 415.0C320.3 414.2 321.2 411.3 321.0 409.0C320.8 406.7 319.2 403.5 318.0 401.0C316.8 398.5 315.3 396.0 314.0 394.0C312.7 392.0 310.7 390.2 310.0 389.0C309.3 387.8 309.2 387.0 310.0 387.0Z" fill="#FF8C00"/>
<path d="M358.6 371.0C359.6 370.7 360.9 372.7 361.5 374.0C362.1 375.3 362.2 377.3 362.0 379.0C361.8 380.7 361.2 382.9 360.5 384.0C359.8 385.1 358.3 385.8 357.5 385.5C356.7 385.2 355.8 383.6 355.5 382.0C355.2 380.4 355.0 377.8 355.5 376.0C356.0 374.2 357.6 371.3 358.6 371.0Z" fill="#FF8C00"/>
<path d="M153.3 237.0C153.4 236.2 153.9 235.3 154.2 235.3C154.5 235.3 154.9 236.2 155.0 237.0C155.1 237.8 154.8 239.5 154.6 240.0C154.4 240.5 153.8 240.5 153.6 240.0C153.4 239.5 153.2 237.8 153.3 237.0Z" fill="#FF8C00"/>
<path d="M95.0 296.0C95.8 295.6 97.4 296.0 98.0 297.3C98.6 298.6 98.4 302.0 98.7 304.0C99.0 306.0 99.3 307.8 100.0 309.3C100.7 310.9 101.4 312.2 102.7 313.3C104.0 314.4 106.7 315.1 108.0 316.0C109.3 316.9 110.4 317.1 110.7 318.7C111.0 320.2 110.5 323.3 110.0 325.3C109.5 327.3 108.5 329.1 108.0 330.7C107.5 332.3 106.8 333.6 107.0 335.0C107.2 336.4 108.0 337.5 109.0 339.0C110.0 340.5 112.1 342.2 113.0 344.0C113.9 345.8 114.3 347.8 114.5 350.0C114.7 352.2 114.6 355.2 114.0 357.0C113.4 358.8 112.0 360.7 111.0 361.0C110.0 361.3 109.1 360.3 108.0 359.0C106.9 357.7 105.3 355.2 104.5 353.0C103.7 350.8 103.9 348.2 103.0 346.0C102.1 343.8 100.5 341.9 99.0 340.0C97.5 338.1 95.0 336.7 94.0 334.7C93.0 332.7 92.8 330.0 92.7 328.0C92.6 326.0 92.9 324.2 93.3 322.7C93.7 321.1 95.2 320.5 95.3 318.7C95.4 316.9 94.4 315.1 94.0 312.0C93.6 308.9 92.8 302.7 93.0 300.0C93.2 297.3 94.2 296.4 95.0 296.0Z" fill="#EE0000"/>
<path d="M150.0 376.0C151.0 375.0 152.2 374.3 153.0 375.0C153.8 375.7 154.2 378.3 154.5 380.0C154.8 381.7 154.8 383.5 154.5 385.0C154.2 386.5 153.8 388.0 153.0 389.0C152.2 390.0 151.2 390.6 150.0 391.0C148.8 391.4 147.7 391.5 146.0 391.5C144.3 391.5 141.4 390.9 140.0 391.0C138.6 391.1 137.5 392.3 137.5 392.0C137.5 391.7 139.1 390.0 140.0 389.0C140.9 388.0 141.8 387.3 143.0 386.0C144.2 384.7 145.8 382.7 147.0 381.0C148.2 379.3 149.0 377.0 150.0 376.0Z" fill="#EE0000"/>
<path d="M153.0 403.0C153.7 402.0 154.7 403.0 155.0 405.0C155.3 407.0 155.5 413.0 155.0 415.0C154.5 417.0 152.7 417.7 152.0 417.0C151.3 416.3 150.8 413.3 151.0 411.0C151.2 408.7 152.3 404.0 153.0 403.0Z" fill="#EE0000"/>
<path d="M238.3 148.7C239.3 147.2 241.0 145.6 242.3 145.3C243.6 145.0 245.1 145.7 246.3 146.7C247.5 147.7 248.8 149.4 249.7 151.3C250.6 153.2 251.4 155.8 251.7 158.0C252.0 160.2 252.0 162.7 251.7 164.7C251.4 166.7 250.3 168.2 249.7 170.0C249.1 171.8 248.4 173.5 248.3 175.3C248.2 177.1 248.6 178.9 249.0 180.7C249.4 182.5 250.3 184.0 251.0 186.0C251.7 188.0 252.6 190.2 253.0 192.7C253.4 195.1 253.4 197.8 253.7 200.7C253.9 203.6 254.1 206.8 254.5 210.0C254.9 213.2 255.6 216.3 256.0 220.0C256.4 223.7 257.0 227.8 257.0 232.0C257.0 236.2 256.4 241.2 256.0 245.0C255.6 248.8 254.6 252.0 254.3 255.0C254.0 258.0 254.5 260.3 254.3 263.0C254.1 265.7 253.6 268.3 253.0 271.0C252.4 273.7 251.8 276.6 251.0 279.0C250.2 281.4 249.6 283.7 248.3 285.7C247.0 287.7 244.6 289.4 243.0 291.0C241.4 292.6 240.3 293.4 239.0 295.0C237.7 296.6 236.6 299.0 235.0 300.3C233.4 301.6 231.4 302.1 229.7 303.0C228.0 303.9 226.1 304.7 225.0 305.7C223.9 306.7 223.7 307.1 223.0 309.0C222.3 310.9 222.3 314.7 221.0 317.0C219.7 319.3 216.9 320.7 215.0 323.0C213.1 325.3 211.5 329.2 209.3 330.7C207.1 332.2 203.6 332.7 202.0 332.0C200.4 331.3 200.1 328.7 200.0 326.7C199.9 324.7 201.8 322.3 201.3 320.0C200.8 317.7 198.4 315.2 197.0 313.0C195.6 310.8 193.8 308.7 193.0 307.0C192.2 305.3 192.2 304.3 192.0 303.0C191.8 301.7 191.2 300.7 192.0 299.0C192.8 297.3 194.8 295.0 197.0 293.0C199.2 291.0 202.0 288.7 205.0 287.0C208.0 285.3 212.4 284.1 215.0 283.0C217.6 281.9 218.3 281.2 220.3 280.3C222.3 279.4 224.8 278.8 227.0 277.7C229.2 276.6 231.8 275.5 233.7 273.7C235.6 271.9 237.4 269.4 238.3 267.0C239.2 264.6 239.6 261.0 239.0 259.0C238.4 257.0 236.9 256.1 235.0 255.0C233.1 253.9 229.8 253.6 227.7 252.3C225.6 251.0 223.3 248.8 222.3 247.0C221.3 245.2 221.5 243.7 221.7 241.7C221.9 239.7 223.0 237.0 223.7 235.0C224.4 233.0 225.9 231.0 225.7 229.7C225.5 228.4 223.3 228.1 222.3 227.0C221.3 225.9 220.6 223.9 219.7 223.0C218.8 222.1 218.3 221.6 217.0 221.7C215.7 221.8 213.2 223.1 211.7 223.7C210.1 224.2 209.0 225.0 207.7 225.0C206.4 225.0 204.9 224.7 203.7 223.7C202.5 222.7 201.3 220.7 200.3 219.0C199.3 217.3 198.4 215.5 197.7 213.7C197.0 211.9 196.8 210.1 196.3 208.3C195.9 206.5 195.8 204.8 195.0 203.0C194.2 201.2 192.6 199.4 191.7 197.7C190.8 196.0 189.8 194.2 189.8 193.0C189.9 191.8 191.2 191.1 192.0 190.7C192.8 190.3 193.5 190.1 194.3 190.7C195.1 191.3 196.3 192.7 197.0 194.5C197.7 196.3 197.6 199.8 198.3 201.7C199.0 203.6 199.7 204.4 201.0 205.7C202.3 207.0 204.5 208.6 206.3 209.7C208.1 210.8 209.9 211.4 211.7 212.3C213.5 213.2 215.2 215.7 217.0 215.0C218.8 214.3 221.2 210.5 222.3 208.3C223.4 206.1 222.6 203.7 223.7 201.7C224.8 199.7 226.8 197.8 229.0 196.3C231.2 194.8 235.4 194.4 237.0 192.7C238.6 191.0 238.0 188.0 238.3 186.0C238.6 184.0 239.0 182.7 239.0 180.7C239.0 178.7 238.5 176.2 238.3 174.0C238.1 171.8 238.0 169.5 237.7 167.3C237.4 165.1 236.5 162.9 236.3 160.7C236.1 158.5 236.0 156.0 236.3 154.0C236.6 152.0 237.3 150.1 238.3 148.7Z" fill="#1A9FFB"/>
<path d="M197.0 183.3C196.6 181.9 197.4 179.6 198.3 178.0C199.2 176.4 200.5 175.0 202.3 174.0C204.1 173.0 207.0 172.1 209.0 172.0C211.0 171.9 213.2 172.5 214.3 173.3C215.4 174.1 215.9 175.2 215.7 176.7C215.5 178.1 214.3 180.6 213.0 182.0C211.7 183.4 209.7 184.5 207.7 185.3C205.7 186.1 202.8 187.0 201.0 186.7C199.2 186.4 197.4 184.8 197.0 183.3Z" fill="#1A9FFB"/>
<path d="M171.7 213.7C171.7 211.9 173.0 208.7 174.3 207.0C175.6 205.3 177.9 204.2 179.7 203.7C181.5 203.1 183.8 202.9 185.0 203.7C186.2 204.5 186.6 206.6 187.0 208.3C187.4 210.0 188.0 211.9 187.7 213.7C187.4 215.5 186.3 218.0 185.0 219.0C183.7 220.0 181.5 219.9 179.7 219.7C177.9 219.5 175.6 218.7 174.3 217.7C173.0 216.7 171.7 215.5 171.7 213.7Z" fill="#1A9FFB"/>
<path d="M173.7 231.0C174.7 230.0 176.2 229.4 178.3 229.0C180.4 228.6 184.1 228.4 186.3 228.3C188.5 228.2 190.2 227.6 191.7 228.3C193.1 229.0 193.7 230.7 195.0 232.3C196.3 233.9 198.1 236.1 199.7 237.7C201.2 239.3 203.3 239.9 204.3 241.7C205.3 243.5 205.6 246.6 205.7 248.3C205.8 250.0 205.8 250.8 204.7 251.7C203.6 252.6 201.1 254.1 199.3 254.0C197.5 253.9 195.3 252.1 194.0 251.3C192.7 250.6 192.6 250.1 191.7 249.5C190.8 248.9 189.4 248.6 188.3 247.7C187.2 246.8 186.4 245.1 185.0 244.3C183.6 243.5 181.5 243.7 179.7 243.0C177.9 242.3 175.5 241.6 174.3 240.3C173.1 239.0 172.4 236.6 172.3 235.0C172.2 233.4 172.7 232.0 173.7 231.0Z" fill="#1A9FFB"/>
<path d="M212.0 347.0C212.7 345.5 215.3 344.5 217.0 343.0C218.7 341.5 220.8 339.8 222.0 338.0C223.2 336.2 223.9 334.3 224.5 332.0C225.1 329.7 225.9 326.7 225.7 324.3C225.4 321.9 224.1 319.6 223.0 317.7C221.9 315.8 219.3 314.3 219.0 313.0C218.7 311.7 220.3 310.8 221.0 310.0C221.7 309.2 221.8 308.1 223.0 308.3C224.2 308.5 226.3 310.3 228.3 311.0C230.3 311.7 232.8 312.3 235.0 312.3C237.2 312.3 239.5 311.7 241.7 311.0C243.9 310.3 246.1 309.1 248.3 308.3C250.5 307.5 252.8 307.4 255.0 306.3C257.2 305.2 259.5 303.4 261.7 301.7C263.9 300.0 266.1 298.1 268.3 296.3C270.5 294.5 272.8 292.3 275.0 291.0C277.2 289.7 279.2 289.2 281.7 288.3C284.1 287.4 287.5 286.4 289.7 285.7C291.9 285.0 293.6 284.5 295.0 284.0C296.4 283.5 295.9 283.1 298.0 282.7C300.1 282.2 304.2 282.0 307.3 281.3C310.4 280.6 313.8 279.6 316.7 278.7C319.6 277.8 322.3 276.9 324.7 276.0C327.1 275.1 329.3 274.4 331.3 273.3C333.3 272.2 335.5 270.9 336.7 269.3C337.9 267.8 337.3 264.6 338.7 264.0C340.1 263.4 343.1 264.3 345.0 266.0C346.9 267.7 348.0 271.2 350.0 274.0C352.0 276.8 354.5 280.2 357.0 283.0C359.5 285.8 362.3 288.7 365.0 291.0C367.7 293.3 369.7 295.3 373.0 297.0C376.3 298.7 382.8 299.8 385.0 301.0C387.2 302.2 387.7 303.0 386.0 304.0C384.3 305.0 378.2 306.5 375.0 307.0C371.8 307.5 369.7 307.7 367.0 307.0C364.3 306.3 361.7 304.7 359.0 303.0C356.3 301.3 353.6 298.2 351.0 297.0C348.4 295.8 345.7 296.4 343.3 296.0C340.9 295.6 338.9 295.4 336.7 294.7C334.5 294.0 332.2 292.7 330.0 292.0C327.8 291.3 325.5 290.7 323.3 290.7C321.1 290.7 320.0 291.3 316.7 292.0C313.4 292.7 306.9 293.8 303.3 294.7C299.7 295.6 297.3 296.5 295.0 297.7C292.7 298.9 291.9 300.1 289.7 301.7C287.5 303.2 284.4 305.7 281.7 307.0C279.0 308.3 276.1 308.6 273.7 309.7C271.2 310.8 269.0 312.1 267.0 313.7C265.0 315.2 262.9 317.0 261.7 319.0C260.5 321.0 259.9 323.5 259.7 325.7C259.5 327.9 259.8 330.8 260.3 332.3C260.9 333.9 261.6 334.4 263.0 335.0C264.4 335.6 267.0 336.0 269.0 336.0C271.0 336.0 273.7 335.8 275.0 335.0C276.3 334.2 276.8 332.3 277.0 331.0C277.2 329.7 276.0 328.1 276.3 327.0C276.6 325.9 277.4 325.0 279.0 324.3C280.6 323.6 283.8 322.9 285.7 323.0C287.6 323.1 289.6 323.9 290.3 325.0C291.0 326.1 290.5 328.2 289.7 329.7C288.9 331.1 286.8 332.5 285.7 333.7C284.6 334.9 283.8 335.8 283.0 337.0C282.2 338.2 281.7 339.3 281.0 341.0C280.3 342.7 280.0 345.0 279.0 347.0C278.0 349.0 276.8 351.2 275.0 353.0C273.2 354.8 270.7 356.2 268.0 358.0C265.3 359.8 261.8 362.2 259.0 364.0C256.2 365.8 253.2 367.0 251.0 369.0C248.8 371.0 246.8 373.5 246.0 376.0C245.2 378.5 245.2 381.5 246.0 384.0C246.8 386.5 250.0 389.2 251.0 391.0C252.0 392.8 252.7 394.5 252.0 395.0C251.3 395.5 248.8 395.3 247.0 394.0C245.2 392.7 243.0 388.7 241.0 387.0C239.0 385.3 237.2 384.3 235.0 384.0C232.8 383.7 230.3 384.3 228.0 385.0C225.7 385.7 222.8 386.7 221.0 388.0C219.2 389.3 218.7 391.5 217.0 393.0C215.3 394.5 212.7 397.0 211.0 397.0C209.3 397.0 207.5 394.8 207.0 393.0C206.5 391.2 207.5 388.5 208.0 386.0C208.5 383.5 209.2 381.0 210.0 378.0C210.8 375.0 212.3 371.0 213.0 368.0C213.7 365.0 214.0 362.7 214.0 360.0C214.0 357.3 213.3 354.2 213.0 352.0C212.7 349.8 211.3 348.5 212.0 347.0Z" fill="#1A9FFB"/>
<path d="M128.0 330.0C128.3 328.5 128.7 326.3 130.0 325.0C131.3 323.7 134.2 323.3 136.0 322.0C137.8 320.7 139.3 318.1 141.0 317.0C142.7 315.9 144.7 315.0 146.0 315.5C147.3 316.0 148.3 318.4 149.0 320.0C149.7 321.6 149.0 323.8 150.0 325.0C151.0 326.2 153.5 326.0 155.0 327.0C156.5 328.0 158.1 329.7 159.0 331.0C159.9 332.3 160.7 333.9 160.5 335.0C160.3 336.1 158.9 337.1 158.0 337.5C157.1 337.9 156.0 336.8 155.0 337.5C154.0 338.2 153.0 341.2 152.0 341.5C151.0 341.8 150.0 340.6 149.0 339.5C148.0 338.4 147.0 335.2 146.0 335.0C145.0 334.8 144.3 337.8 143.0 338.5C141.7 339.2 139.8 339.2 138.0 339.0C136.2 338.8 133.7 337.8 132.0 337.0C130.3 336.2 128.7 335.2 128.0 334.0C127.3 332.8 127.7 331.5 128.0 330.0Z" fill="#1A9FFB"/>
<path d="M196.8 369.0C197.0 368.2 199.3 368.6 199.6 369.4C199.9 370.2 199.1 374.1 198.6 374.0C198.1 373.9 196.6 369.8 196.8 369.0Z" fill="#1A9FFB"/>
<path d="M334.0 239.0C334.6 237.8 336.9 237.8 337.5 239.0C338.1 240.2 338.1 245.2 337.5 246.5C336.9 247.8 334.6 247.8 334.0 246.5C333.4 245.2 333.4 240.2 334.0 239.0Z" fill="#1A9FFB"/>
<path d="M327.5 299.5C327.7 299.0 328.5 299.0 328.7 299.5C328.9 300.0 328.9 302.0 328.7 302.5C328.5 303.0 327.7 303.0 327.5 302.5C327.3 302.0 327.3 300.0 327.5 299.5Z" fill="#1A9FFB"/>
<path d="M230.3 316.3C231.1 315.5 233.5 315.0 234.3 315.7C235.1 316.4 235.3 319.1 235.0 320.3C234.7 321.5 233.2 323.0 232.3 323.0C231.4 323.0 230.0 321.4 229.7 320.3C229.4 319.2 229.5 317.1 230.3 316.3Z" fill="#9BD0EE"/>
<path d="M249.7 322.5C250.7 322.9 251.5 324.3 251.7 325.7C251.9 327.1 251.6 329.3 251.0 331.0C250.4 332.7 249.0 334.7 248.0 336.0C247.0 337.3 245.2 337.5 245.0 339.0C244.8 340.5 244.7 343.7 247.0 345.0C249.3 346.3 256.3 346.0 259.0 347.0C261.7 348.0 262.2 349.7 263.0 351.0C263.8 352.3 264.3 353.7 264.0 355.0C263.7 356.3 262.8 357.7 261.0 359.0C259.2 360.3 256.0 361.7 253.0 363.0C250.0 364.3 246.0 365.8 243.0 367.0C240.0 368.2 237.7 369.0 235.0 370.0C232.3 371.0 229.3 371.7 227.0 373.0C224.7 374.3 222.7 377.7 221.0 378.0C219.3 378.3 217.7 376.8 217.0 375.0C216.3 373.2 216.3 369.7 217.0 367.0C217.7 364.3 219.7 361.7 221.0 359.0C222.3 356.3 223.3 354.0 225.0 351.0C226.7 348.0 229.1 344.1 231.0 341.0C232.9 337.9 234.8 334.6 236.3 332.3C237.9 330.0 238.7 328.6 240.3 327.0C241.9 325.4 244.1 323.8 245.7 323.0C247.3 322.2 248.7 322.1 249.7 322.5Z" fill="#2D50E6"/>
<path d="M234.3 212.3C235.0 211.1 236.5 210.1 237.7 210.3C238.9 210.5 240.9 212.2 241.7 213.7C242.5 215.1 242.9 217.4 242.3 219.0C241.7 220.6 239.6 222.4 238.3 223.0C237.0 223.6 235.1 223.2 234.3 222.3C233.5 221.4 233.7 219.4 233.7 217.7C233.7 216.0 233.6 213.5 234.3 212.3Z" fill="#2D50E6"/>
<path d="M230.3 241.7C230.7 240.3 232.7 238.5 234.3 237.7C235.9 236.9 238.1 236.6 239.7 237.0C241.3 237.4 243.3 238.9 243.7 240.3C244.1 241.8 243.4 244.5 242.3 245.7C241.2 246.9 238.8 247.6 237.0 247.7C235.2 247.8 232.8 247.3 231.7 246.3C230.6 245.3 229.9 243.1 230.3 241.7Z" fill="#2D50E6"/>
<path d="M176.3 211.7C176.3 210.7 178.3 208.7 179.3 208.7C180.3 208.7 182.3 210.7 182.3 211.7C182.3 212.7 180.3 214.7 179.3 214.7C178.3 214.7 176.3 212.7 176.3 211.7Z" fill="#2D50E6"/>
<path d="M195.5 247.7C195.5 247.1 196.7 246.0 197.3 246.0C197.9 246.0 199.0 247.1 199.0 247.7C199.0 248.3 197.9 249.5 197.3 249.5C196.7 249.5 195.5 248.3 195.5 247.7Z" fill="#2D50E6"/>
</g>
<path d="M160.3 149.2L160.3 155.9L158.3 157.9L158.3 166.1L156.2 167.2L153.0 173.5L153.0 179.7L149.8 182.3L149.1 190.9L144.5 191.3L132.0 196.7L132.0 201.9L130.0 203.9L130.0 207.4L127.3 208.7L127.3 212.5L123.3 213.8L123.3 216.3L118.7 217.0L118.7 229.5L116.7 233.5L116.7 240.0L113.8 245.6L110.8 246.4L109.0 244.0L102.6 244.0L101.4 247.4L98.3 249.4L97.7 266.0L96.0 268.0L96.0 273.4L93.3 274.7L93.3 311.1L90.5 312.7L85.5 312.7L84.8 314.0L80.0 314.0L80.0 311.3L64.7 311.3L64.7 318.7L62.0 320.0L62.0 331.2L79.7 331.9L80.4 334.4L83.7 335.0L84.4 337.6L87.4 338.4L92.5 348.5L98.6 351.6L106.9 361.7L111.8 363.7L115.2 368.0L118.0 375.5L119.1 383.8L125.1 391.8L126.3 399.2L137.0 398.1L141.0 403.6L141.0 415.4L144.7 423.9L173.1 425.9L177.8 430.6L188.0 435.7L204.2 446.9L245.7 453.2L252.2 446.6L262.0 440.8L280.6 432.3L288.1 438.9L294.9 440.0L311.9 438.9L317.9 432.9L331.5 430.9L340.2 427.7L346.3 420.5L355.7 414.9L371.2 412.0L398.9 413.1L410.5 399.3L472.5 334.3L481.0 323.0L451.2 323.0L435.6 319.1L383.7 300.1L372.0 295.2L364.3 289.5L356.8 282.6L341.2 264.2L338.5 263.6L337.9 258.8L336.0 257.6L336.0 248.2L338.7 247.5L338.7 238.0L320.7 238.0L320.7 241.0L308.0 241.0L308.0 223.5L315.7 214.4L320.4 205.1L326.0 198.7L284.4 157.2L267.3 143.8L252.6 143.5L248.1 137.3L243.9 137.3L241.2 141.3L239.2 141.3L237.8 136.7L230.4 136.7L229.0 140.0L210.5 141.3L204.7 134.7L195.3 134.7L194.5 139.2L184.6 142.7L177.6 142.7L175.6 148.0L173.1 148.0L172.4 146.0L164.3 146.0L163.5 148.3Z" fill="none" stroke="#aaa" stroke-width="0.7" stroke-linejoin="round"/>
<g fill="none" stroke="#333" stroke-width="0.5" stroke-linejoin="round" stroke-linecap="round">
<path d="M183.7 144.7L184.6 146.6L186.0 148.9L187.5 150.2L189.2 151.7L190.1 153.4L191.5 154.7L192.5 156.6L193.8 157.9L194.5 159.7L195.1 161.7L196.1 163.3L195.9 165.1L195.6 167.1L195.1 168.8L193.7 169.9L192.5 171.8L191.0 172.7L189.4 174.0L187.8 175.0L185.8 175.4L183.6 175.0L181.7 175.9L179.8 175.7L177.7 175.2L175.7 174.1L173.7 173.8L171.7 173.6L169.3 173.5L167.1 172.5L165.6 171.7L163.8 170.6L162.4 169.9L160.3 168.0"/>
<path d="M195.0 168.7L196.3 168.8L198.4 168.7L200.6 168.4L202.3 168.9L204.2 169.0L206.1 169.6L207.7 170.2L209.4 169.4L211.5 168.9L213.0 168.0L215.1 168.0L217.2 168.4L218.5 170.8L220.4 172.5L222.6 173.3L224.9 174.1L226.5 175.6L227.7 178.0L229.0 179.3"/>
<path d="M214.3 144.0L214.9 146.2L215.9 148.6L217.8 151.3L217.4 152.8L217.2 154.9L217.2 156.7L216.3 159.3L216.0 162.0L217.0 163.8L217.2 166.0L217.7 167.3"/>
<path d="M159.0 170.0L159.9 172.6L161.6 173.7L163.8 174.5L165.9 175.1L167.5 176.2L168.9 178.1L168.8 180.7L168.5 182.7L168.7 184.7L168.8 186.7L169.0 188.7L170.2 190.2L171.8 191.3L171.4 193.3L170.8 195.2L168.7 197.7L167.0 199.3L165.1 200.8L162.2 202.6L160.9 204.9L159.7 207.3L158.0 210.0"/>
<path d="M187.7 174.7L188.5 176.9L189.0 179.3L186.1 181.2L186.9 183.0L187.9 184.7L187.0 186.2L185.1 187.4L183.6 188.6L182.0 189.2L179.9 189.3L178.3 190.0L175.9 190.5L173.7 190.8L171.7 191.3"/>
<path d="M173.7 190.7L174.4 193.0L174.1 195.1L171.0 195.3"/>
<path d="M213.0 168.0L213.6 169.7L214.8 172.1L215.8 174.0L217.1 177.0L216.5 180.3L215.9 182.3L214.8 184.8L214.1 187.0L214.2 189.2L214.9 191.7L214.7 193.6L214.5 196.0L212.7 197.5L211.7 198.9L210.2 200.4L209.1 201.9L207.4 202.2L205.4 202.5L203.7 202.7L201.9 203.1L199.9 204.0L198.3 203.6L195.0 202.6L192.0 203.6L193.5 206.3L191.7 207.7L188.8 208.1L188.0 211.1L187.4 213.6L187.3 216.4L185.8 218.3L184.7 220.2L184.4 222.4L183.5 224.2L182.5 226.1L181.0 227.0"/>
<path d="M215.0 193.7L214.6 195.4L214.2 197.7L214.3 199.4L215.1 201.3L215.9 202.9L216.6 204.6L217.2 206.8L218.2 208.3L218.6 210.1L219.6 212.0L219.6 213.7L218.7 215.7L218.6 217.7L219.1 219.5L220.0 221.0L219.3 224.3L221.0 225.5L222.5 226.8L224.1 228.9L226.3 229.6L228.3 228.5L230.4 227.1L231.5 224.9L232.9 222.9L234.9 221.4L236.9 220.1L239.1 220.0L241.1 219.1L242.1 217.7L243.6 216.1L244.7 214.8L246.4 213.4L248.1 212.1L249.8 211.2L251.9 210.3L253.5 210.0"/>
<path d="M215.7 203.0L218.0 203.4L221.0 203.8L223.1 203.5L225.5 202.9L227.7 202.9L229.9 202.9L232.4 203.7L234.3 203.6L236.5 203.6L237.7 202.3L237.8 200.1L236.9 197.7L236.3 195.7L236.0 193.7L236.4 191.4L237.7 190.0L240.9 191.3L242.9 191.2L245.0 191.9L247.6 192.0L249.9 193.3L252.0 194.4L253.7 195.3"/>
<path d="M237.7 202.3L238.9 202.7L240.9 203.3L243.2 203.3L245.0 203.4L246.9 203.4L249.2 203.5L251.4 203.2L252.7 203.0"/>
<path d="M222.3 227.0L221.3 228.7L220.3 231.0L219.2 233.0L218.4 235.0L217.0 236.5L215.8 238.0L214.2 237.2L212.2 236.6L210.3 236.2L208.6 235.8L206.6 235.7L205.0 234.8L203.3 234.3L201.4 233.8L199.7 233.8L197.5 232.6L195.8 230.8L193.6 229.6L191.7 228.3L190.3 226.9L188.8 226.0L186.4 224.1L183.7 224.3"/>
<path d="M215.7 237.7L216.2 239.4L216.4 242.0L216.5 244.3L216.0 246.1L216.2 248.1L215.9 249.7L215.0 252.7L215.0 254.7L217.0 253.0"/>
<path d="M195.7 231.0L195.4 232.9L194.3 235.0L193.3 237.1L192.4 239.0L192.7 241.1L193.8 243.0L193.4 245.1L192.5 247.1L191.4 249.3L189.6 250.9L188.0 252.6L186.0 254.1L184.3 255.0L182.3 256.1L181.0 257.0"/>
<path d="M165.0 235.7L166.6 234.3L169.0 233.4L171.0 234.1L172.9 235.1L173.9 236.5L175.1 238.5L175.4 240.4L177.0 242.2L176.8 244.3L175.9 245.4L174.3 246.9L172.8 248.1L171.7 249.6L170.3 251.1L168.8 252.0L166.9 253.9L165.0 255.0"/>
<path d="M190.3 175.0L189.8 177.0L189.0 179.0"/>
<path d="M253.7 144.7L253.9 146.5L253.3 149.1L253.4 151.3L254.4 153.0L254.4 155.0L255.0 156.7L254.9 158.8L253.9 161.1L253.4 163.3L254.2 165.4L254.4 167.8L254.5 170.0L254.3 172.1L253.9 174.6L253.6 176.7L253.7 178.9L253.7 181.3L254.4 183.3L254.7 185.1L254.5 187.1L254.6 188.8L255.5 190.8L255.6 192.7L253.4 195.1L253.2 198.0L253.5 200.0L254.2 202.0L254.1 204.0L253.3 206.0L253.1 207.8L254.0 210.1L254.4 212.2L254.2 214.2L255.2 216.5L255.8 218.7L256.3 220.1L257.8 221.9L258.0 223.6L258.2 226.1L258.5 228.3L259.2 230.3L260.4 232.2L261.1 233.8L263.0 236.4L262.9 237.8L262.5 239.9L261.9 241.7L262.0 243.7L261.8 246.2L261.9 248.3L261.7 250.4L261.3 252.8L260.9 255.0L261.7 257.2L262.2 259.7L262.2 261.7L261.8 264.0L261.3 265.7L259.0 265.4L256.6 265.6L256.0 267.7"/>
<path d="M262.3 190.0L263.6 188.8L265.1 187.5L267.4 187.1L269.8 186.9L271.1 184.6L271.7 182.8L273.2 183.9L274.4 185.9L276.2 186.6L278.2 187.6L280.0 188.1L282.3 188.6L283.7 189.3L283.8 192.6L285.6 191.9L287.7 190.5L289.5 191.2L291.1 192.2L294.0 193.3L295.5 192.4L297.5 191.8L299.1 190.9L300.8 189.5L302.9 188.4L305.1 188.5L307.7 188.7L310.0 189.0L312.3 189.4L315.0 189.3L316.7 190.0"/>
<path d="M283.7 189.3L283.3 190.9L282.8 193.5L282.4 196.1L282.4 198.0L280.7 199.6L278.7 200.3L277.3 202.2L275.8 204.2L276.2 206.0L276.7 208.4L277.0 210.7L276.5 212.1L274.4 213.5L271.8 214.1L271.3 215.9L271.2 218.1L271.4 219.8L267.9 220.7L266.4 221.1L264.1 221.1L261.6 221.4L259.4 221.5L258.0 221.7"/>
<path d="M262.3 190.0L261.2 191.8L260.2 193.8L257.0 195.3L255.0 196.0"/>
<path d="M236.3 144.7L236.0 147.0L236.1 150.1L235.4 152.2L234.9 154.7L233.9 156.7L234.7 158.8L234.9 160.7L233.7 162.7L232.2 164.6L231.4 166.7L230.1 168.7L230.2 170.8L231.2 173.2L230.7 175.2L230.0 177.5L229.1 179.3L229.3 181.4L230.2 183.4L232.1 184.6L234.3 184.4L236.3 183.9L238.3 183.2L240.2 183.7L242.0 184.4L243.9 183.6L246.0 182.7L248.0 183.3L250.0 184.0L252.2 183.6L254.0 183.3"/>
<path d="M230.3 168.7L228.3 168.4L226.1 169.3L223.7 169.7L222.0 171.1L220.3 172.7"/>
<path d="M233.0 183.0L231.4 181.9L230.3 180.3"/>
<path d="M263.3 236.3L265.4 235.5L268.0 235.6L269.4 237.6L271.3 239.1L273.1 238.5L275.6 238.5L277.3 237.7L278.9 236.5L280.1 235.2L281.6 234.3L283.6 233.9L285.1 233.4L286.7 232.4L288.0 231.0L289.7 230.5L291.8 229.8L293.6 229.2L293.8 227.3L294.4 225.2L294.7 223.7L297.5 224.0L297.9 225.7L298.0 227.9L298.7 229.7L299.4 231.4L300.4 233.2L300.8 235.0L300.9 237.0L300.8 239.4L300.6 240.9L299.1 241.1L296.7 241.5L294.7 241.7L293.5 243.0L291.7 244.1L290.6 245.6L289.5 247.1L289.0 249.2L287.8 250.9L287.9 252.5L287.5 254.5L287.2 256.6L286.6 258.6L286.4 260.2L286.2 262.2L285.9 264.5L284.6 266.5L284.7 268.3L284.7 270.6L285.4 273.0L286.0 275.0L286.6 276.8L287.9 278.4L289.1 279.9L290.3 281.8L291.7 284.0L292.5 286.1L292.9 288.2L293.2 290.6L293.5 292.7L292.9 294.5L291.5 296.2L291.5 298.0L291.4 300.2L292.7 302.6L293.0 304.7L293.3 307.5L292.7 310.0L294.1 312.0L296.0 314.0L297.1 315.7L299.0 317.4L300.0 319.3L301.1 320.9L301.9 323.0L303.0 324.6L303.3 326.4L303.7 328.4L304.3 329.9L305.6 332.2L307.5 333.8L308.6 335.2L310.1 336.4L311.4 338.0L312.6 340.3L313.8 342.1L315.6 343.8L316.9 345.9L317.4 347.5L318.6 349.4L319.7 351.2L320.0 352.5"/>
<path d="M300.7 241.0L302.4 241.4L305.0 241.1L306.7 241.0"/>
<path d="M271.3 239.0L271.2 240.8L270.9 243.4L270.6 245.7L270.9 247.8L271.1 250.3L272.1 252.3L272.5 254.6L272.9 257.1L273.1 259.2L275.2 259.5L277.7 260.4L280.0 260.1L282.3 260.6L285.0 260.4L286.7 260.3"/>
<path d="M263.3 236.3L264.6 237.9L266.6 238.4L268.7 239.0L268.9 240.8L269.1 243.4L269.2 245.7L269.8 247.8L269.9 250.3L270.0 252.3L270.4 254.1L271.4 255.9L271.5 257.7L270.8 259.7L270.3 262.1L269.7 264.2L269.6 266.6L268.7 269.0L268.3 271.1L267.5 273.2L266.6 275.0L266.2 277.1L265.0 279.0L263.8 281.5L262.9 283.9L261.2 284.8L259.1 285.1L257.6 286.3L255.9 288.0L254.7 289.9L254.2 291.5L254.2 293.5L253.4 295.4L252.9 297.0L252.4 299.2L251.6 301.5L251.0 303.0"/>
<path d="M240.0 203.0L241.2 204.0L243.4 204.3L245.3 204.7L247.0 204.6L249.2 204.0L251.5 203.7L252.7 203.0"/>
<path d="M240.0 221.7L240.8 223.1L242.4 224.7L243.9 225.9L245.9 226.7L248.0 227.1L250.6 226.6L253.4 226.5L255.5 224.5L257.3 223.0"/>
<path d="M240.0 248.3L241.5 247.8L243.6 246.8L245.3 245.7L247.2 244.0L249.3 243.0L251.3 242.4L253.3 241.8L255.3 241.0L257.3 240.1L259.9 240.6L262.0 241.5"/>
<path d="M291.3 284.0L293.1 283.5L295.2 282.4L297.0 282.7L299.0 282.0L300.7 282.2L302.8 281.2L304.8 280.5L307.4 282.5L309.3 282.9L311.3 281.9L313.2 280.8L315.3 280.1L317.1 278.7L318.5 277.1L320.4 276.1L322.0 275.3L324.0 276.3L327.3 275.9L328.9 275.6L331.1 275.8L332.8 275.5L334.7 274.3L336.2 273.1L337.1 276.2L338.9 277.0L340.7 277.3L341.5 279.4L339.3 280.3L336.6 281.0L334.5 282.1L332.5 283.0L330.9 284.3L330.3 286.1L330.0 287.9L329.6 290.1L330.3 292.1L331.3 294.0L332.8 295.9L334.0 298.0L335.6 299.9L336.9 301.9L337.2 304.0L337.2 306.0L338.4 308.2L339.8 310.1L340.4 312.7L339.7 314.2L338.1 315.4L337.3 317.4L335.8 319.2L334.7 321.2L333.7 323.2L333.7 325.5L333.3 327.3"/>
<path d="M370.0 298.0L371.8 299.5L374.2 300.8L374.6 303.0L374.8 304.9L373.6 307.0L372.0 309.0L370.1 309.8L368.0 310.1L365.5 309.6L363.0 307.9L361.8 306.9L360.0 306.1L358.2 305.1L357.1 303.9L355.4 302.8L354.0 301.1L352.6 300.4L350.9 302.2L350.3 304.8L349.7 306.9L348.9 308.9L346.9 309.7L344.7 310.1L342.7 311.7L340.7 312.7"/>
<path d="M334.0 323.3L333.8 321.8L332.8 319.8L332.4 317.9L331.4 316.2L330.7 314.3L330.0 312.7L328.2 311.1L325.8 310.3L323.8 308.7L322.0 307.5L320.3 307.9L318.9 309.5L316.9 310.8L315.5 312.9L314.4 314.2L314.1 316.4L313.5 318.0L313.0 320.7L312.7 323.3L312.2 325.0L312.0 326.9L311.7 328.6L311.3 330.4L310.2 332.3L309.9 334.0L310.3 336.0L310.8 337.9L312.1 339.2L313.8 340.7L315.3 341.9L317.8 342.9L320.0 343.9L321.6 343.5L323.7 343.4L325.3 342.6L327.8 341.9L330.2 341.0L331.6 338.7L333.1 336.6L334.6 334.8L335.0 332.6L335.9 330.6L336.1 328.7L334.0 326.0"/>
<path d="M290.0 320.7L292.4 320.2L295.3 320.1L297.9 319.3L300.0 319.3"/>
<path d="M336.0 328.7L337.5 328.5L339.9 328.7L342.0 328.5L344.2 329.3L346.8 330.0L348.8 331.2L350.3 332.3L351.6 333.8L352.6 335.3L353.5 337.2L355.2 338.9L355.7 340.9L357.8 342.7L359.2 344.8L361.1 346.2L362.7 347.3L364.3 346.1L366.3 344.9L367.2 343.1L368.2 341.1L368.9 339.3L370.5 337.7L372.0 336.6L373.9 338.2L375.9 340.1L377.1 341.6L378.7 343.1L380.1 343.6L381.7 343.7L382.7 341.8L384.0 340.3L385.0 337.9L386.2 336.1L386.9 334.3L388.4 332.9L390.1 332.2L391.6 331.9L393.8 331.5L396.1 331.7L398.0 332.1L399.8 332.2L402.0 332.6L404.2 332.7L406.0 333.0L408.0 333.0L410.2 333.8L412.4 334.0L413.9 333.7L416.2 332.8L417.8 330.8L419.5 329.7L420.6 327.6L422.0 326.0L423.6 324.7L425.6 323.4L427.3 322.2L427.9 320.0L428.4 317.6L429.0 316.0"/>
<path d="M398.0 332.0L397.7 334.3L397.0 337.0L396.0 338.6L394.9 340.5L394.1 342.0L394.5 343.8L395.7 345.8L396.2 348.0L395.7 349.7L395.2 351.9L394.0 354.0L394.2 356.0L394.2 357.9L394.2 360.2L394.4 362.4L395.2 363.9L396.4 366.0L397.9 368.1L399.8 368.7L401.7 370.3L404.2 370.9L406.0 371.9L407.9 372.3L410.0 372.3L412.2 372.5L414.0 373.2L415.8 373.8L418.1 374.4L420.3 375.1L422.0 376.1L424.2 376.7L426.5 377.5L428.0 378.0"/>
<path d="M360.0 351.0L360.2 353.1L360.1 356.0L360.2 357.7L360.7 360.0L361.5 362.2L362.3 363.9L363.0 365.4L364.1 367.0L364.8 368.9L366.0 370.0L367.2 371.4L368.9 372.5L370.0 374.0L370.7 375.4L371.9 376.9L373.0 378.5L373.8 380.1L374.2 381.9L375.3 384.1L375.3 386.4L376.0 388.0L377.6 389.3L380.1 389.9L381.9 391.2L383.8 392.2L386.0 393.4L388.1 393.7L389.9 394.1L392.0 393.8L394.0 393.8L395.8 394.3L398.1 394.6L400.2 395.5L401.9 396.3L404.4 396.7L406.6 398.1L408.0 399.0"/>
<path d="M310.0 335.0L309.6 336.4L309.4 338.6L309.4 340.9L309.8 342.6L311.4 343.2L313.7 343.5L316.3 344.0L318.5 344.5L320.2 344.8L320.7 346.5L321.0 348.8L320.5 351.0L320.3 352.7L317.7 355.1L316.9 356.5L316.2 358.7L315.9 361.0L315.0 362.5L312.9 363.2L310.6 364.6L308.5 365.3L306.4 366.2L304.6 367.9L303.3 368.8L300.0 368.2L299.0 367.3L297.1 366.7L295.5 365.1L293.8 363.7L292.1 362.8L290.9 362.9L288.6 363.6L286.6 365.7L285.5 367.3L283.5 368.8L281.7 370.4L280.9 372.0L280.8 374.1L282.2 375.9L282.4 377.8L282.9 380.0L282.9 382.0L283.1 384.2L283.9 386.6L283.7 388.6L281.8 390.2L280.1 392.2L278.5 393.0L276.7 394.2L275.2 395.3L273.2 395.9L271.5 397.5L270.0 398.0"/>
<path d="M320.0 345.0L321.5 344.8L323.8 344.3L326.2 343.0L328.5 342.4L330.1 341.8L330.7 339.1L331.0 337.0"/>
<path d="M317.5 355.0L318.7 354.6L320.7 354.2L323.0 354.1L325.1 353.8L326.8 354.1L328.3 355.8L329.9 357.9L331.6 359.4L333.9 359.9L336.5 359.8L338.4 359.9L339.0 361.6L338.3 363.9L338.4 365.8L338.9 367.7L340.1 369.7L341.8 370.7L343.7 371.3L346.2 371.8L348.4 372.0L350.0 371.0L351.8 370.0L352.3 368.3L352.2 366.5L351.3 363.9L349.8 361.7L350.2 360.1L351.4 359.8L353.5 359.1L356.1 358.9L358.5 358.7L360.2 358.5L360.5 356.7L361.0 354.5L361.0 352.0L360.6 350.0L360.6 348.3L359.6 346.6L358.6 344.7L357.3 343.1L356.9 341.6L355.8 339.5L354.8 337.3L354.0 336.0"/>
<path d="M360.0 358.3L360.7 359.5L361.1 361.6L362.0 363.7L363.2 365.1L364.6 366.2L366.5 367.0L368.6 367.5L370.2 368.0L371.8 369.3L373.1 370.9L374.0 372.0"/>
<path d="M315.0 362.5L315.7 363.9L316.8 365.9L318.5 367.2L319.7 368.3L321.4 369.2L323.3 370.0L325.1 370.6L326.8 371.7L329.3 371.6L331.5 372.6L333.2 373.6L334.9 374.3L336.7 375.7L338.4 377.0L339.5 378.3L338.3 380.7L337.6 383.3L338.2 384.9L340.0 386.6L341.8 388.5L343.4 389.9L344.8 391.3L346.0 393.2L347.3 395.0L348.6 396.6L349.3 398.5L350.4 400.7L351.1 403.0L351.8 405.0L352.7 406.8L353.3 409.2L354.4 411.2L355.0 412.5"/>
<path d="M300.0 368.3L300.3 370.1L300.6 372.8L301.3 374.9L302.3 377.5L303.1 380.0L302.8 382.6L302.3 385.1L300.9 386.9L298.9 387.8L297.0 388.4L295.1 389.4L293.0 389.1L291.4 389.9L290.8 392.5L291.2 394.2L292.4 396.1L293.5 398.1L295.2 399.9L295.9 402.5L296.8 405.1L298.0 406.5L298.7 408.6L300.3 409.8L300.8 411.7L301.9 413.6L302.9 415.0L303.7 417.5L304.2 420.1L305.5 421.3L307.1 422.5L308.7 423.9L310.1 424.8L311.6 426.6L313.4 428.1L315.3 428.7L317.0 431.0"/>
<path d="M270.0 384.0L271.9 384.1L274.7 384.0L277.1 384.3L279.8 385.4L282.1 386.4L283.5 388.5"/>
<path d="M270.0 415.0L271.2 416.2L273.1 417.8L274.8 419.2L276.3 420.1L277.0 422.1L278.1 423.7L278.8 425.1L279.9 427.9L281.0 430.0"/>
<path d="M277.5 351.7L277.2 353.2L277.2 355.5L277.0 358.0L276.7 360.0L276.4 362.3L276.9 364.6L277.3 366.8L278.5 368.2L279.3 370.3L280.2 372.1L280.8 373.3"/>
<path d="M214.7 408.7L215.9 406.5L217.9 406.6L220.0 406.3L222.5 405.9L225.0 405.5L225.2 401.9L227.1 402.8L228.8 404.6L229.9 406.4L231.3 407.3L232.5 405.6L234.2 403.4L234.4 401.2L235.3 398.7L236.1 396.7L237.0 394.3L237.1 391.9L237.9 389.9L239.2 388.1L240.2 386.3L241.6 384.7L240.4 382.9L240.2 380.7L240.6 379.1L240.6 377.0L241.6 375.3L241.4 373.5L240.3 371.7L239.9 370.0L239.1 367.4L238.3 365.0L238.9 362.5L239.9 359.9L240.9 358.5L242.8 357.4L244.1 356.2L245.7 354.9L247.7 353.9L249.0 353.0"/>
<path d="M214.7 408.7L214.9 410.2L214.4 412.4L213.8 414.8L213.8 416.7L214.3 419.0L214.8 421.4L215.0 423.3L213.9 425.4L213.6 427.4L215.1 429.2L216.9 431.1L218.4 432.4L220.0 434.4L222.0 435.2L224.1 436.0L226.6 436.3L228.7 437.0L230.4 436.1L232.3 435.8L233.9 435.1L235.6 434.2L237.5 433.3L239.3 432.6L241.1 432.8L243.1 432.2L244.6 431.9L245.9 429.7L247.2 427.3L248.0 425.7L248.1 423.7L248.5 421.9L249.0 420.2L250.3 418.6L250.6 416.7L251.1 414.6L251.6 412.1L252.2 410.1L252.5 408.2L253.0 406.2L253.8 404.6L254.6 402.8L255.5 400.7L256.5 399.1L258.5 397.9L260.6 397.1L262.3 396.7L264.4 396.6L266.0 396.1L268.1 395.5L270.0 395.0L272.7 394.8L275.0 395.0"/>
<path d="M250.7 416.7L252.2 416.0L254.6 415.9L256.7 415.2L258.8 414.9L261.2 414.3L263.3 414.0L265.2 413.6L267.2 413.2L268.6 413.5L270.0 415.0"/>
<path d="M244.7 432.0L244.1 433.3L243.9 435.3L243.7 437.6L243.6 439.4L242.8 441.3L241.6 443.1L240.4 444.6L239.6 447.1L239.0 449.0"/>
<path d="M203.3 400.7L204.8 400.8L206.8 399.9L208.7 399.7L211.0 400.9L213.3 402.0L215.3 403.6L216.7 405.3"/>
<path d="M207.3 378.0L208.1 379.2L209.8 380.6L211.2 382.1L213.2 383.1L214.9 385.1L216.7 386.0L218.8 386.8L220.9 387.1L222.1 388.7L223.0 390.6L223.2 392.3L223.9 394.3L225.0 395.9L225.1 398.0L225.7 400.3L226.0 402.0L225.3 404.0"/>
<path d="M247.3 378.0L249.2 376.6L251.3 375.4L253.8 376.9L254.9 378.5L255.5 380.6L256.8 382.5L259.3 383.2L261.3 383.9L263.9 384.3L266.0 383.6L268.2 383.7L269.9 382.5L272.6 382.2L275.2 381.3L276.4 379.9L277.3 377.9L278.0 376.0L278.1 374.4L277.6 372.3L277.8 370.0L277.5 368.0L277.5 366.7"/>
<path d="M230.0 372.0L231.5 373.8L232.9 375.7L234.7 376.6L236.7 376.9L240.0 375.3"/>
<path d="M122.0 364.7L123.4 364.3L125.4 363.8L127.3 363.3L129.0 362.7L131.1 362.3L132.7 361.3L134.5 360.4L136.5 359.2L138.2 358.2L140.0 356.3L142.1 355.5L144.7 354.8L145.7 356.1L147.0 357.8L147.7 359.5L148.2 361.7L148.7 363.3L147.5 365.4L146.1 367.4L145.5 369.6L145.2 371.6L148.1 370.2L151.4 369.0L153.0 367.5L154.6 367.5L155.7 368.9L156.2 371.3L156.3 373.0L157.0 375.0L156.9 376.7L155.9 378.7L155.5 380.7L155.6 382.7L155.7 384.7L155.2 386.8L154.0 388.7L152.1 389.8L150.0 390.2L147.3 388.5L144.0 390.1L140.5 391.0L138.6 392.7L138.7 396.0"/>
<path d="M148.7 363.3L149.1 361.3L149.9 359.1L152.7 358.9L155.1 358.6L156.3 355.3L154.9 353.2L153.8 351.1L152.8 349.4L152.0 348.0"/>
<path d="M155.3 358.7L156.9 359.0L159.1 359.7L160.7 360.7L161.9 362.4L163.3 363.0L166.7 362.6L167.7 361.1L168.8 359.4L170.6 358.6L172.6 357.6L174.4 357.3L176.4 356.9L178.0 356.7L179.1 354.2L177.3 355.9L175.6 354.5L174.6 352.0L175.0 350.2L175.8 348.2L176.0 346.7"/>
<path d="M154.7 367.3L158.0 366.1L159.9 367.0L161.2 368.8L163.3 371.5L166.0 370.0L167.3 368.7L168.8 367.4L170.4 365.7L172.9 365.0L174.8 363.5L176.7 362.8L178.7 363.3L179.4 365.1L179.2 367.3L179.0 369.3L178.0 370.7"/>
<path d="M156.0 384.7L159.3 382.9L159.3 384.8L158.3 387.0L157.8 388.8L160.7 390.1L162.8 389.6L164.6 388.6L165.4 386.7L165.8 384.6L168.8 382.8L170.8 382.2L172.7 381.2L175.3 380.0"/>
<path d="M160.7 390.0L160.7 391.8L161.2 394.4L162.0 396.7L162.6 398.8L163.7 401.0L163.7 403.1L165.2 405.5L165.8 408.1L166.9 409.6L168.4 411.2L168.6 412.7L167.1 414.2L165.1 415.9L164.6 418.1L164.5 420.8L164.7 422.7"/>
<path d="M168.7 412.7L171.0 410.4L172.5 409.5L173.4 407.6L174.3 406.1L175.2 402.6L177.8 401.8L178.9 400.3L179.8 397.8L180.8 396.1L182.6 395.2L183.8 393.8L184.3 391.9L184.6 390.1L182.0 387.9L180.0 388.2L177.9 388.6L176.3 389.6L175.6 391.4L175.2 392.9L175.8 394.9L175.7 396.7L175.5 398.7L175.6 401.1L175.3 402.7"/>
<path d="M182.0 388.0L182.6 385.8L182.4 383.3L182.0 380.7"/>
<path d="M178.0 402.0L179.8 403.1L182.0 403.8L184.0 403.8L185.9 402.8L188.0 401.5L189.9 399.9L191.0 398.0L192.1 396.1L194.1 395.0L196.0 394.0L197.8 394.7L199.0 396.0"/>
<path d="M184.7 390.0L188.1 389.2L189.7 387.8L191.2 386.1L192.2 384.1L192.7 381.8L194.5 380.2L195.9 378.7L195.0 376.7L193.2 374.8L193.0 373.0L192.0 371.1L192.3 369.2L191.5 367.4L191.3 365.3L190.7 364.0"/>
<path d="M196.0 378.7L197.8 379.2L199.8 380.2L201.6 381.7L203.0 382.6L204.7 381.9L206.4 379.7L207.6 378.2L206.7 378.8L205.2 377.0L204.1 374.7L204.4 373.0L205.4 371.1L205.6 369.2L204.4 367.1L202.6 365.4L201.8 363.6L201.4 361.5L201.3 360.0"/>
<path d="M199.0 396.0L200.7 394.3L202.0 392.8L202.5 394.3L202.9 396.7L202.9 399.2L203.3 400.7"/>
<path d="M203.0 383.0L203.3 385.3L203.8 388.0L203.1 390.8L202.0 393.0"/>
<path d="M126.7 215.3L128.6 218.2L131.2 218.6L134.0 219.0L135.7 218.1L137.8 217.8L139.5 217.0L141.4 215.3L143.2 213.9L145.3 212.0L146.8 213.8L148.7 215.2L150.6 214.0L152.6 212.5L155.4 210.8L156.6 209.0L158.0 207.3L158.9 205.3L159.1 203.1L162.1 202.1L164.7 200.7"/>
<path d="M145.3 212.0L147.1 213.7L148.7 216.0L149.8 218.1L151.3 219.6L153.4 218.7L155.3 217.8L156.0 219.3L156.1 221.5L157.0 223.2L157.5 225.0L157.7 227.3L158.8 228.6L160.8 231.0L162.9 230.8L164.7 229.9L165.0 231.6L165.2 234.0L165.0 235.7"/>
<path d="M160.7 231.3L160.3 233.6L159.0 236.0L157.4 237.9L155.7 239.8L154.6 242.1L153.2 244.1L151.9 245.4L150.9 247.4L150.0 249.0L149.1 251.6L147.8 253.9L146.7 256.2L144.7 257.8L144.2 260.2L142.9 262.1L141.6 263.3L140.3 264.8L139.1 266.1L137.9 267.7L136.6 269.6L136.0 271.0"/>
<path d="M118.7 234.0L120.6 236.1L122.4 238.1L122.9 240.6L122.3 243.4L121.1 245.4L119.9 247.3L120.0 249.0L120.2 251.0L120.6 252.7L121.6 254.7L122.9 256.6L123.1 258.4L123.8 260.4L125.0 261.8L126.1 264.0L127.2 266.1L129.0 267.7L131.5 268.4L133.7 270.0L136.1 270.6L139.0 271.0"/>
<path d="M118.0 235.3L118.6 236.7L119.1 239.0L119.5 241.4L118.9 243.3L119.2 245.2L118.3 247.1L118.2 248.7L118.3 251.3L118.4 254.1L119.5 255.7L120.7 257.5L121.4 259.2L121.8 261.1L122.5 263.1L123.1 264.8L124.6 266.8L125.8 269.0L128.1 270.2L130.0 271.0"/>
<path d="M139.0 271.0L139.9 270.1L142.0 269.4L143.7 268.1L145.0 267.0L146.5 265.8L147.5 263.9L149.2 263.3L150.9 261.8L153.2 261.3L154.4 259.0L156.0 257.0L157.6 255.2L158.9 252.9L160.0 251.8L161.0 250.0L162.4 248.4L163.1 247.0L164.5 244.9L165.0 243.0"/>
<path d="M139.0 271.0L139.4 272.3L140.8 273.8L142.0 275.5L142.9 277.1L144.4 277.8L146.1 279.0L147.7 280.2L149.2 280.8L149.8 282.8L151.0 284.8L151.2 287.0L150.6 288.8L150.2 291.1L149.6 293.3L149.1 295.1L147.8 296.5L146.4 297.9L145.0 299.0L143.9 300.9L143.7 303.5L143.0 305.0"/>
<path d="M159.0 271.0L160.8 270.7L163.0 270.1L165.0 269.5L167.0 269.3L168.5 269.3L170.1 270.7L171.8 271.9L172.7 273.2L173.4 275.0L173.9 277.4L174.9 279.1L176.8 279.4L179.1 280.0L180.9 281.1L181.9 282.4L182.7 284.6L183.3 287.2L184.3 289.4L184.9 291.1L186.3 292.2L188.0 293.1L189.8 293.9L191.0 295.0L192.5 296.5L193.3 299.0L194.3 301.3L194.6 303.0L194.4 305.1L192.7 307.1L191.7 309.0L192.4 311.1L193.5 313.5L195.0 315.0L196.9 315.8L199.4 315.7L201.0 316.0"/>
<path d="M151.0 287.0L152.4 287.2L154.6 287.9L157.1 288.2L159.0 288.8L160.9 289.7L163.2 289.7L165.4 290.3L166.9 291.2L168.0 292.3L169.4 293.8L170.0 295.7L170.9 297.1L172.1 298.8L173.9 300.0L175.0 301.1L177.3 299.9L178.4 301.9L179.9 304.1L181.1 305.4L182.6 306.7L184.2 307.9L185.0 309.4L186.0 311.3L186.2 313.4L186.7 314.7L185.7 316.0L183.9 317.2L182.5 318.7L180.3 320.0L178.7 321.3L177.1 322.7L176.0 324.0L174.4 324.1L172.2 323.6L170.7 322.8L169.2 321.5L168.1 320.0L167.5 318.4L167.3 316.3L166.7 314.7L165.2 314.0L163.2 313.4L161.3 312.6L159.6 312.8L157.4 312.6L155.1 312.4L153.3 312.0L151.7 311.2L149.9 309.9L148.0 309.0L146.7 308.0L144.5 306.3L143.0 305.0"/>
<path d="M175.0 293.0L176.3 293.8L177.7 295.6L178.8 297.1L178.6 298.6L178.7 301.0L178.0 303.2L177.9 305.0L178.6 306.7L180.2 308.3L181.9 309.7L183.1 310.9L185.3 313.0L186.7 314.7"/>
<path d="M95.3 275.3L96.7 276.4L98.7 277.4L100.7 277.9L102.9 278.4L104.0 280.4L105.4 282.0L104.6 284.2L104.2 286.8L102.8 288.9L101.2 290.6L99.7 293.3L101.9 296.0L100.0 296.6L97.9 296.5L96.0 296.7"/>
<path d="M105.3 282.0L107.1 281.1L109.4 280.1L111.4 278.7L113.2 277.3L113.8 275.3L115.0 273.4L115.9 271.1L117.5 269.6L119.2 269.1L121.3 269.2L123.5 270.3L125.6 271.8L126.5 274.2L128.1 275.8L130.0 276.7L132.0 277.3L133.8 279.0L135.9 280.3L138.1 279.7L140.1 278.8L143.0 277.0"/>
<path d="M101.3 290.7L102.6 291.5L104.9 292.0L106.7 292.8L108.5 292.7L110.4 291.9L111.9 291.2L114.3 289.8L116.1 288.4L118.8 288.5L119.9 290.2L121.2 292.1L122.6 293.2L123.8 294.9L125.3 296.0L126.9 298.0L128.3 299.9L128.6 302.2L129.0 304.3L126.5 304.6L124.0 304.7L122.6 305.9L121.1 307.1L119.8 309.5L119.0 312.2L117.0 313.9L116.3 316.1L115.9 317.9L116.3 320.0L116.3 322.0L116.8 324.6L117.1 326.7L117.8 328.5L118.0 330.5L118.7 332.0L119.8 333.4L121.2 335.0L122.9 335.8L123.9 338.3L125.0 340.0"/>
<path d="M128.0 300.0L130.1 299.4L132.7 298.6L134.4 297.3L135.9 295.8L137.9 295.0L140.0 294.9L141.9 295.9L143.5 298.0L145.0 299.0"/>
<path d="M143.0 305.0L141.6 305.3L139.3 306.0L136.8 306.1L134.9 306.7L133.4 307.6L131.7 308.6L130.3 309.9L129.1 311.1L127.6 312.5L126.6 314.7L126.1 317.3L124.7 318.9L123.8 320.4L123.1 322.4L122.0 324.0L120.9 324.9L118.9 326.1L117.3 326.7"/>
<path d="M143.0 305.0L143.7 306.1L145.3 307.5L146.5 309.3L147.1 311.0L147.1 312.9L146.1 315.0L145.3 317.2L145.0 319.0L145.5 320.6L147.1 322.0L148.6 323.5L148.9 325.0L148.8 326.9L148.0 329.1L146.7 330.8L146.2 332.4L144.9 334.0L144.2 335.9L143.0 337.0L141.7 338.6L140.3 340.3L139.0 341.0L137.9 340.0L136.1 338.7L135.3 336.8L134.0 335.4L132.1 334.3L131.0 332.9L129.1 332.7L126.9 332.8L124.9 332.7L123.8 334.2L122.2 335.6L121.0 337.0L120.0 338.8L119.1 341.1L119.0 343.0L120.0 344.4L121.7 345.9L122.9 347.0L123.1 348.9L121.8 351.0L120.9 353.0L119.8 354.2L117.8 355.2L116.1 356.2L115.0 357.0"/>
<path d="M139.0 341.0L139.5 342.4L139.4 344.8L140.1 347.2L140.8 349.1L141.6 350.8L143.3 352.3L144.6 353.8L144.8 355.1L144.7 354.7"/>
<path d="M88.7 313.3L89.5 315.2L90.9 317.1L92.6 318.1L94.7 318.7L96.0 320.9L97.4 322.5L98.8 321.8L100.1 320.1L101.1 318.1L101.4 316.0L100.8 314.1L99.3 312.7L96.7 310.7L95.3 312.7"/>
<path d="M88.7 313.3L88.4 314.8L88.2 317.1L87.5 318.9L85.7 319.5L83.4 320.0L81.3 320.3L79.1 320.5L76.5 320.6L74.5 321.1L73.4 323.0L72.9 325.3L73.4 327.9L74.0 330.0"/>
<path d="M97.3 322.7L98.0 324.0L98.1 326.3L99.2 327.9L100.0 329.5L101.7 330.8L102.9 332.2L105.5 333.0L107.9 334.2L110.5 335.1L113.0 335.8L115.1 335.2L117.0 333.0L118.7 332.0"/>
<path d="M140.0 338.7L141.4 339.1L143.8 339.0L146.1 340.0L148.0 339.9L149.8 340.7L151.8 341.1L153.3 341.4L155.4 340.1L157.2 338.6L158.3 336.8L160.0 336.0L161.5 336.3L163.2 338.0L165.3 339.0L166.6 340.1L168.1 342.0L169.2 344.1L170.8 344.5L172.6 345.4L174.4 346.5L176.0 347.0L177.9 346.7L180.0 346.3L181.3 345.3L183.2 342.6L183.3 340.5L183.9 338.5L186.7 338.6L187.8 337.5L189.7 336.3L190.5 334.6L192.4 332.7L193.0 330.7L192.3 328.7L190.7 326.7L189.7 325.3L188.1 323.9L186.5 322.8L185.7 320.9L184.5 318.8L184.0 317.3"/>
<path d="M169.3 344.0L168.8 345.4L168.4 347.6L167.9 349.2L165.9 350.6L164.0 351.9L161.9 352.6L160.0 353.3L158.4 354.7L157.2 355.6L156.0 355.3"/>
<path d="M186.7 314.7L188.2 314.4L190.3 313.9L192.0 313.2L194.1 313.8L196.0 315.0L198.0 314.0L199.9 313.0L201.9 312.4L204.0 312.0L205.7 312.0L207.5 313.2L209.3 313.7L211.0 313.2L212.9 312.8L214.7 312.7L216.3 311.8L218.6 311.7L219.8 310.4L221.6 308.6L223.0 307.0"/>
<path d="M193.3 330.7L195.3 331.1L197.3 332.1L199.9 330.6L201.4 328.9L203.0 326.9L203.7 325.2L205.3 323.9L206.5 322.5L208.4 321.8L210.1 320.2L212.0 320.3L213.8 320.5L215.8 321.6L217.2 322.8L218.9 323.9L220.0 325.4L223.1 326.7L225.0 327.0"/>
<path d="M190.7 334.7L192.1 335.8L193.4 337.0L195.2 336.7L197.3 335.9L199.3 336.6L201.4 337.2L202.8 338.5L203.8 340.3L205.6 340.6L207.7 341.3L209.3 341.4L210.6 340.2L211.7 338.5L213.0 337.2L213.6 334.9L214.4 333.2L215.9 331.2L217.6 329.5L218.5 326.9L220.0 325.3"/>
<path d="M186.7 338.7L187.0 340.2L187.5 342.3L188.0 344.0L189.5 346.5L191.1 346.9L193.3 347.1L195.0 347.5L197.0 347.0L198.8 347.1L200.8 345.8L202.8 344.9L205.5 346.5L206.5 348.5L206.3 350.6L205.0 353.2L205.1 355.4L205.2 357.4L207.1 358.6L209.2 358.4L210.6 357.4L211.8 355.8L213.6 354.9L214.4 353.1L215.9 351.2L217.2 349.3L217.2 347.3L216.9 345.0L216.6 343.1L216.5 340.8L217.0 339.0L218.2 337.9L219.9 336.5L221.7 335.5L223.0 335.0"/>
<path d="M204.0 340.0L204.7 341.9L204.6 344.8L205.3 346.7"/>
<path d="M183.3 342.7L183.1 344.2L183.8 346.4L183.8 348.9L184.3 350.7L183.4 352.5L183.0 354.4L182.6 355.9L181.4 358.0L179.9 359.9L179.3 361.7L178.5 363.7L178.9 365.2L179.5 367.2L181.2 368.3L183.1 367.5L185.2 366.5L186.8 365.7L188.9 364.8L190.8 364.2L192.3 363.2L194.2 362.8L195.9 362.4L197.9 362.2L199.7 360.9L201.2 359.8L203.5 358.5L205.3 357.3"/>
<path d="M177.3 356.0L178.9 357.8L180.0 360.0"/>
<path d="M175.0 257.0L175.8 258.0L177.7 258.8L179.3 260.2L180.9 261.2L182.8 261.2L184.9 261.9L187.1 262.6L189.0 262.9L190.9 263.2L193.0 263.9L195.1 264.7L197.0 265.0L198.9 265.5L201.0 266.5L203.3 266.4L205.0 266.9L207.1 266.7L209.3 266.1L210.9 264.8L212.0 263.8L213.0 262.1L214.1 260.4L214.9 258.9L215.9 256.9L216.8 254.6L217.0 253.0"/>
<path d="M215.0 259.0L216.5 258.5L218.9 258.1L221.3 257.4L223.1 256.8L224.6 257.9L225.8 259.7L227.1 260.8L228.6 260.7L230.8 261.2L233.0 260.3L235.0 259.9L237.0 259.5L239.2 258.5L241.5 258.0L242.8 256.8L244.0 255.4L244.5 253.1L245.1 250.8L245.1 249.0L244.6 246.6L244.0 245.0"/>
<path d="M205.0 267.0L205.5 268.4L205.9 270.7L206.2 273.2L206.8 275.2L208.6 276.1L211.1 276.9L213.4 277.9L215.0 279.0L215.8 280.9L216.8 283.0L216.7 285.0L216.4 287.0L215.1 289.1L214.7 291.1L216.0 292.2L218.0 293.1L219.8 294.4L221.0 295.0"/>
<path d="M227.0 261.0L226.2 262.4L225.9 265.0L224.8 267.3L225.0 269.0L226.2 270.0L228.6 269.9L231.0 270.8L233.0 270.9L234.6 271.6L236.2 272.9L237.9 273.8L238.7 275.2L239.9 276.7L240.5 279.0L240.7 281.3L240.8 282.9L239.8 284.4L237.9 285.7L236.7 287.0L237.7 288.3L239.1 290.0L240.3 291.8L240.8 293.0L240.1 294.0L238.3 294.8L236.7 296.4L234.9 296.8L233.5 297.6L232.2 299.2L230.2 299.7L229.0 301.0L227.1 302.0L225.2 303.8L223.9 305.8L223.1 307.0L223.9 308.0L225.3 309.5L227.2 310.8L229.0 310.7L230.8 310.7L232.9 309.7L235.1 309.3L236.7 308.0L239.0 307.3L241.1 305.9L243.0 305.1L244.9 304.2L247.2 304.3L249.4 303.8L251.2 303.3L252.1 301.7L253.3 300.1L254.4 298.5L255.1 297.0L254.9 295.1L253.6 293.0L253.0 290.7L253.2 289.1L254.1 288.0L255.8 287.1L257.4 285.7L259.0 285.0L260.1 283.7L261.2 282.1L262.2 280.4L263.2 279.1L263.7 276.8L264.3 274.4L264.9 273.4L266.7 275.0"/>
<path d="M251.0 303.0L252.0 304.0L253.8 305.1L255.5 306.5L257.0 307.3L258.4 306.7L259.8 305.3L261.5 304.0L262.8 302.8L264.2 301.6L266.2 300.3L267.5 298.3L269.0 297.0L270.6 295.9L272.3 294.3L273.4 292.1L275.0 290.9L276.4 289.5L278.6 288.3L280.0 286.4L280.8 285.0L280.9 283.3L280.4 281.0L279.1 278.9L279.3 277.0L279.4 274.9L280.7 272.6L282.0 270.4L282.8 268.7L284.7 268.3"/>
<path d="M229.0 311.0L228.3 312.3L228.2 314.6L227.5 317.0L226.7 318.9L226.2 320.8L226.1 323.0L225.5 325.2L224.7 326.9L224.3 328.8L223.8 331.1L223.6 333.3L222.8 335.0L223.1 337.2L224.0 339.3L225.2 340.8L226.6 341.4L228.8 342.2L231.1 342.6L233.0 342.9L235.0 342.8L237.3 342.1L239.3 340.9L240.9 341.3L242.5 341.8L243.7 343.4L245.0 345.0L245.8 346.7L247.2 348.7L248.1 351.1L249.3 352.9L249.5 354.9L250.4 357.1L250.7 359.3L250.9 361.0L250.5 362.9L249.5 364.7L248.7 366.9L248.9 368.5L248.7 370.6L247.7 372.7L247.7 375.0L247.3 376.8L247.3 378.0"/>
<path d="M257.0 307.0L257.0 308.4L256.3 310.4L255.7 312.8L255.7 315.2L254.8 317.0L254.5 319.0L253.5 321.0L253.0 323.1L253.1 325.0L253.0 326.9L253.4 329.1L254.1 331.3L254.9 333.1L256.1 334.3L258.0 335.5L259.8 336.9L261.6 338.2L263.0 338.9L265.1 339.9L267.4 340.0L269.1 340.9L270.1 342.7L271.2 344.9L270.8 347.0L270.5 348.5L269.3 350.1L267.6 351.4L267.1 353.0L267.0 354.8L267.7 357.0L268.1 359.4L269.0 361.0L270.4 361.9L271.9 363.4L273.9 364.0L274.9 365.1L277.5 366.7"/>
<path d="M263.0 339.0L262.7 337.4L262.5 335.0L263.2 333.1L264.0 331.9L265.7 331.0L267.5 329.8L269.1 329.2L270.4 328.1L272.3 327.4L273.7 325.9L275.0 325.0L276.1 323.7L277.5 322.2L278.3 320.4L278.8 319.0L278.3 317.2L277.2 315.0L276.7 313.0L277.4 311.5L278.4 309.8L280.0 308.4L280.8 306.8L282.4 306.0L283.7 304.4L285.5 303.5L287.0 302.7L289.1 303.5L291.8 303.8L293.3 304.7"/>
<path d="M217.0 339.0L216.5 340.7L215.3 342.9L215.0 345.0L215.6 346.4L216.8 347.9L218.4 349.3L219.3 350.9L219.9 352.7L219.9 355.0L220.5 357.2L220.7 359.1L221.9 360.4L222.7 362.2L223.7 363.8L225.2 364.9L226.0 366.8L227.7 368.8L229.0 370.8L230.0 372.0"/>
<path d="M212.0 347.0L211.0 348.7L209.1 349.7L206.7 350.7"/>
<path d="M238.5 165.0C239.3 164.4 243.5 164.0 245.0 164.0C246.5 164.0 250.2 164.4 251.0 165.0C251.8 165.6 252.3 168.2 252.0 169.0C251.7 169.8 249.3 171.2 248.0 171.5C246.7 171.8 242.2 171.8 241.0 171.5C239.8 171.2 238.3 169.8 238.0 169.0C237.7 168.2 237.7 165.6 238.5 165.0Z"/>
<path d="M216.5 295.7C216.5 294.7 217.6 292.2 218.3 291.5C219.0 290.8 221.3 290.0 222.3 290.0C223.3 290.0 225.8 290.8 226.5 291.5C227.2 292.2 228.3 294.7 228.3 295.7C228.3 296.7 227.2 299.1 226.5 299.8C225.8 300.5 223.3 301.3 222.3 301.3C221.3 301.3 219.0 300.5 218.3 299.8C217.6 299.1 216.5 296.7 216.5 295.7Z"/>
<path d="M183.0 221.0C183.3 220.5 185.0 219.8 185.5 220.0C186.0 220.2 187.1 221.9 187.0 222.5C186.9 223.1 185.5 224.8 185.0 225.0C184.5 225.2 183.2 224.5 183.0 224.0C182.8 223.5 182.7 221.5 183.0 221.0Z"/>
<path d="M188.5 225.0C188.7 224.6 190.2 224.3 190.5 224.5C190.8 224.7 191.2 226.6 191.0 227.0C190.8 227.4 189.3 228.2 189.0 228.0C188.7 227.8 188.3 225.4 188.5 225.0Z"/>
<path d="M317.5 287.0C317.9 286.5 320.4 285.9 321.0 286.0C321.6 286.1 323.0 287.5 323.0 288.0C323.0 288.5 321.6 290.3 321.0 290.5C320.4 290.7 318.4 290.4 318.0 290.0C317.6 289.6 317.1 287.5 317.5 287.0Z"/>
</g>
<g font-size="5.7" fill="#000" stroke="#000" stroke-width="0.1" text-anchor="middle" filter="url(#nf)">
<text x="203.4" y="155.3">N.Western</text>
<text x="177" y="163">Western</text>
<text x="227" y="158.7">Cent.T</text>
<text x="245.7" y="156">Eastern</text>
<text x="243.4" y="171.7">Mekelle</text>
<text x="241.4" y="178.7">S.Eastern</text>
<text x="276.4" y="173.3">Kilbati</text>
<text x="245.4" y="195.7">S.Tigray</text>
<text x="224.3" y="193.7">WagHamra</text>
<text x="266.7" y="205">Fanti</text>
<text x="203" y="179.3">N.Gondar</text>
<text x="182.7" y="197">Gondar</text>
<text x="150.7" y="199">W.Gondar</text>
<text x="293.5" y="218">Awsi /Zone 1</text>
<text x="235" y="216.7">N.Wello</text>
<text x="205" y="221.7">S.Gondar</text>
<text x="236" y="242.3">South Wello</text>
<text x="139" y="242.4">Metekel</text>
<text x="162.4" y="236.7">Awi</text>
<text x="180.4" y="239.7">W.Gojam</text>
<text x="200.2" y="255.7">E.Gojam</text>
<text x="258.5" y="250">Oromia</text>
<text x="265.7" y="259">Hari</text>
<text x="109.7" y="264">Assosa</text>
<text x="140.4" y="273">Kamashi</text>
<text x="221" y="276">NSH(OR)</text>
<text x="243.5" y="276">NSH(AM)</text>
<text x="179.2" y="278.3">Horo</text>
<text x="97" y="288.7">M.Komo</text>
<text x="126.4" y="288.7">W.Wellega</text>
<text x="163" y="286.6">E.Wellega</text>
<text x="196.7" y="293.7">W.Shewa</text>
<text x="111" y="303">K.Wellega</text>
<text x="152.7" y="312.7">B.Bedele</text>
<text x="206" y="310.7">SW.Shewa</text>
<text x="234.4" y="312.7">E.Shewa</text>
<text x="280" y="307.4">W.Hararge</text>
<text x="131" y="319.3">Ilu</text>
<text x="95.7" y="316.7">Kang</text>
<text x="74.4" y="322.7">Nuwer</text>
<text x="204" y="322">Gurage</text>
<text x="169" y="329.3">Jimma</text>
<text x="188" y="332">Yem</text>
<text x="208.5" y="331.5">Siltie</text>
<text x="194.4" y="340.7">Had.</text>
<text x="208" y="342">Hal</text>
<text x="195.7" y="346.7">Kemb.T</text>
<text x="249.4" y="328.3">Arsi</text>
<text x="102" y="339.3">Agnewak</text>
<text x="129" y="340">Sheka</text>
<text x="119" y="343.5">Maj</text>
<text x="147.7" y="348.7">Kefa</text>
<text x="127" y="357">Bench Sheko</text>
<text x="162" y="358.3">Konta</text>
<text x="175" y="355.3">Dawuro</text>
<text x="194.3" y="357.7">Wolayita</text>
<text x="229.5" y="353">W.Arsi</text>
<text x="293" y="348">E.Bale</text>
<text x="217" y="364">Sidama</text>
<text x="132.5" y="379">Mirab Omo</text>
<text x="159" y="374">Bask</text>
<text x="169.4" y="372">Gofa</text>
<text x="185.7" y="377.7">Gamo</text>
<text x="209" y="379">Gedeo</text>
<text x="261.5" y="373">Bale</text>
<text x="196" y="389">Amw</text>
<text x="210" y="390">W.Guji</text>
<text x="236" y="394">Guji</text>
<text x="178" y="395">Alle</text>
<text x="184.5" y="392">Dejy</text>
<text x="194" y="397">Bu</text>
<text x="183.5" y="401">Kon</text>
<text x="155.5" y="401">S.Omo</text>
<text x="287" y="408">Liban</text>
<text x="209" y="426">Borena</text>
<text x="257.5" y="434">Daawa</text>
<text x="310" y="263.3">Siti</text>
<text x="310" y="281">D.D</text>
<text x="319.4" y="290.4">Harari</text>
<text x="348.7" y="294.7">Fafan</text>
<text x="314" y="303">E.Hararge</text>
<text x="322" y="331">Erer</text>
<text x="379" y="323">Jarar</text>
<text x="342" y="351">Nogob</text>
<text x="388" y="370">Korahe</text>
<text x="361" y="389">Shabelle</text>
<text x="322.5" y="402">Afder</text>
<text x="430" y="348">Doolo</text>
</g>
<g font-size="5.8" fill="#000" text-anchor="middle" font-weight="bold" font-style="italic" filter="url(#nf)">
<text x="222.4" y="297.9">A.A</text>
</g>
<g id="logo">
<rect x="419.6" y="147" width="57.4" height="47.5" fill="#fff"/>
<path d="M424.41 185.13A26 26 0 1 1 472.79 185.13" fill="none" stroke="#2d84e2" stroke-width="1.1"/>
<path d="M426.52 177.92A22.2 22.2 0 1 1 470.58 178.69" fill="none" stroke="#23409c" stroke-width="3.1" stroke-dasharray="1.2 0.85 0.8 0.75 1.5 0.95 1.0 0.8"/>
<path d="M426.52 177.92A22.2 22.2 0 1 1 470.58 178.69" fill="none" stroke="#fff" stroke-width="0.9" stroke-dasharray="0.5 1.3 0.35 1.9 0.45 1.1" stroke-opacity="0.8"/>
<path d="M429.59 178.95A19.3 19.3 0 1 1 467.61 178.95" fill="none" stroke="#86bdf0" stroke-width="0.5"/>
<!-- sun -->
<circle cx="440.6" cy="161.8" r="3.4" fill="#f58220"/>
<path d="M437.3 161.6a3.4 3.4 0 0 1 6.6 -.4" fill="none" stroke="#e23a2a" stroke-width="0.7"/>
<circle cx="440.8" cy="162.4" r="2.1" fill="#ffd42a"/>
<!-- cloud -->
<path d="M436 166C436 164.500 437.500 163.500 439 163.600C440 162.800 441.500 162.600 442.600 163C443.400 161.600 445 160.600 446.600 160.800C447.600 159.800 449.600 159.400 451 160C452.600 159.600 454.400 160.400 455 161.400C456.800 161 458.600 161.800 459.200 163C460.800 163 462.200 164 462.200 165.400C462.400 166.600 461.400 167.400 460 167.400L438.400 167.400C437 167.400 436 166.800 436 166Z" fill="#1a2a5a"/>
<path d="M439.600 165.200c1.200-1 2.800-1.100 3.900-.400c1-1.300 3.200-1.600 4.600-.600c1.300-.900 3.100-.700 4 .200c1.500-.500 3.200-.100 4 .800c1.300-.300 2.600 0 3.400.600c-1.300.100-2.400.500-3.200 1c-1.200-.600-2.800-.500-3.800.100c-1.400-.800-3.300-.700-4.400.100c-1.300-.600-2.900-.500-3.900.200c-1.300-.600-3-.700-4.600-2z" fill="#3b6fc6"/>
<path d="M446.400 162.600c1-.9 2.900-1.100 4.200-.200c-1.300 0-2.600.400-3.400 1.100zM452.200 162.800c.9-.5 2.200-.4 3 .3c-.9 0-1.800.2-2.400.7z" fill="#5b8fdc"/>
<!-- rain -->
<g fill="#1d2a52">
<circle cx="440.300" cy="168.700" r=".42"/><circle cx="442.300" cy="169.100" r=".42"/><circle cx="444.200" cy="168.700" r=".42"/><circle cx="446.200" cy="169.100" r=".42"/><circle cx="448.200" cy="168.700" r=".42"/><circle cx="450.200" cy="169.100" r=".42"/><circle cx="452.200" cy="168.700" r=".42"/><circle cx="454.200" cy="169.100" r=".42"/><circle cx="456.200" cy="168.700" r=".42"/>
<circle cx="443.200" cy="171.100" r=".42"/><circle cx="445.200" cy="171.500" r=".42"/><circle cx="447.200" cy="171.100" r=".42"/><circle cx="449.200" cy="171.500" r=".42"/><circle cx="451.200" cy="171.100" r=".42"/><circle cx="453.200" cy="171.500" r=".42"/>
<circle cx="445.800" cy="173.400" r=".42"/><circle cx="448" cy="173.700" r=".42"/><circle cx="450" cy="173.400" r=".42"/>
</g>
<!-- mountains -->
<path d="M424.200 183.800c1.500-2 3.600-4.400 6.600-5.600c2 .2 3.600 1.300 5.200 1.600c3-1.600 6.200-4.600 9.300-5c3 .6 5.600 3.400 8.600 4.600c2.600-.6 4.400-1 6.600-.4c3.600 1 8.400 2.800 12.400 4.800z" fill="#3f9e2f"/>
<path d="M436 179.800c3-1.600 6.200-4.600 9.300-5c-1.600 1.800-2.600 4.200-2.400 6.600c-2.400-.2-5.200-.6-6.900-1.600z" fill="#6cc23c"/>
<path d="M445.300 174.800c3 .6 5.600 3.400 8.600 4.600c-2.200 1.200-4.600 2.600-6.400 4.400h-3.400c-.8-3 .2-6.800 1.200-9z" fill="#2a7a2a"/>
<path d="M424.200 183.800c1.500-2 3.600-4.400 6.600-5.600c-1 1.800-1.200 3.800-.6 5.600z" fill="#2f8a2c"/>
<path d="M458 180.200c4 .6 9.800 2 14.900 3.600h-14z" fill="#2c7f2b"/>
<path d="M455.400 178.800c-2.600 1-5 1.800-5.600 3c-.4 1 1.400 1.400 .4 2.200h-3c1.200-1-.4-1.600.2-2.800c.8-1.600 4.400-2.200 8-2.400z" fill="#46c9ec"/>
<rect x="424.200" y="183.500" width="48.800" height="1.300" fill="#1b4a3a"/>
<!-- caption -->
<text x="448.600" y="187.700" font-size="2.700" font-weight="bold" fill="#1a2f86" text-anchor="middle" textLength="43.500" lengthAdjust="spacingAndGlyphs" filter="url(#nf)">Ethiopian Meteorology Institute</text>
<defs><linearGradient id="lg" x1="0" x2="1" y1="0" y2="0"><stop offset="0" stop-color="#2c62c8" stop-opacity="0"/><stop offset=".2" stop-color="#2c62c8"/><stop offset=".8" stop-color="#2c62c8"/><stop offset="1" stop-color="#2c62c8" stop-opacity="0"/></linearGradient></defs>
<rect x="427" y="189.200" width="43.200" height="0.9" fill="url(#lg)"/>
<ellipse cx="448.600" cy="189.900" rx="1.900" ry="1.500" fill="#fff" stroke="#777" stroke-width=".4"/>
<circle cx="448.600" cy="189.900" r=".6" fill="#888"/>
</g>
</g>

<rect x="55.5" y="126.8" width="433" height="332.4" fill="none" stroke="#3c3c3c" stroke-width="0.85"/>
<g stroke="#666" stroke-width="0.85">
<path d="M46.3 156.3H55.5M46.3 212.3H55.5M46.3 268.3H55.5M46.3 324.3H55.5M46.3 380.3H55.5M46.3 436.3H55.5"/>
<path d="M89.3 459V468.3M145.3 459V468.3M201.3 459V468.3M257.3 459V468.3M313.3 459V468.3M369.3 459V468.3M425.3 459V468.3M481.3 459V468.3"/>
</g>
<g font-size="12.2" fill="#000" text-anchor="end" filter="url(#nf)">
<text x="38.7" y="160.1">14°N</text>
<text x="38.7" y="216.1">12°N</text>
<text x="38.7" y="272.1">10°N</text>
<text x="38.7" y="328.1">8°N</text>
<text x="38.7" y="384.1">6°N</text>
<text x="38.7" y="440.1">4°N</text>
</g>
<g font-size="12.3" fill="#000" text-anchor="middle" filter="url(#nf)">
<text x="89.7" y="486.4">34°E</text>
<text x="145.7" y="486.4">36°E</text>
<text x="201.7" y="486.4">38°E</text>
<text x="257.7" y="486.4">40°E</text>
<text x="313.7" y="486.4">42°E</text>
<text x="369.7" y="486.4">44°E</text>
<text x="425.7" y="486.4">46°E</text>
<text x="481.7" y="486.4">48°E</text>
</g>
<text x="55.6" y="122" font-size="18.2" font-weight="bold" fill="#000" textLength="435.4" lengthAdjust="spacingAndGlyphs" filter="url(#nf)">Daily minimum temperature (C) for 23-24 Dec 2025</text>
<g stroke="none">
<rect x="520" y="130.8" width="25.8" height="41" fill="#FFB3B3"/>
<rect x="520" y="171.3" width="25.8" height="41" fill="#EE0000"/>
<rect x="520" y="211.8" width="25.8" height="41" fill="#FF8C00"/>
<rect x="520" y="252.3" width="25.8" height="41" fill="#FFE44A"/>
<rect x="520" y="292.8" width="25.8" height="41" fill="#9BD0EE"/>
<rect x="520" y="333.3" width="25.8" height="41" fill="#1A9FFB"/>
<rect x="520" y="373.8" width="25.8" height="41" fill="#2D50E6"/>
<rect x="520" y="414.3" width="25.8" height="40.6" fill="#7D1EEB"/>
</g>
<g stroke="#222" stroke-width="0.6" fill="none">
<rect x="520" y="130.8" width="25.8" height="324.1"/>
<path d="M520 171.3h25.8M520 211.8h25.8M520 252.3h25.8M520 292.8h25.8M520 333.3h25.8M520 373.8h25.8M520 414.3h25.8"/>
</g>
<g font-size="15.3" fill="#000" text-anchor="middle" filter="url(#nf)">
<text x="561.6" y="177.0">25</text>
<text x="561.6" y="217.5">21</text>
<text x="561.6" y="258.0">17</text>
<text x="561.6" y="298.5">13</text>
<text x="561.6" y="339.0">9</text>
<text x="561.6" y="379.5">5</text>
<text x="561.6" y="420.0">1</text>
</g>

</svg>
</body></html>
